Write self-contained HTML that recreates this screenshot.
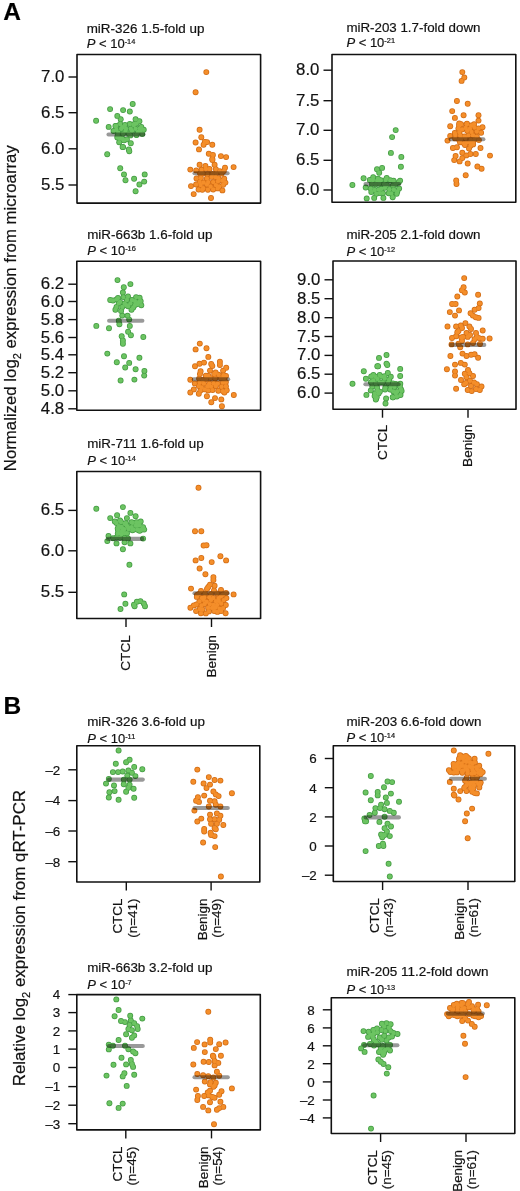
<!DOCTYPE html>
<html><head><meta charset="utf-8"><style>html,body{margin:0;padding:0;background:#fff;overflow:hidden}svg{display:block}#w{will-change:transform}</style></head><body><div id="w">
<svg width="520" height="1191" viewBox="0 0 520 1191" font-family='"Liberation Sans", sans-serif' stroke-linejoin="round">
<style>text{stroke:#1a1a1a;stroke-width:0.2px}</style>
<rect width="520" height="1191" fill="#fff"/>
<text x="3.2" y="19.6" font-size="24.5" font-weight="bold" fill="#000">A</text>
<text x="3.4" y="713.9" font-size="24.5" font-weight="bold" fill="#000">B</text>
<text transform="translate(16.2,471.2) rotate(-90)" font-size="16.8" fill="#111" textLength="326" lengthAdjust="spacingAndGlyphs">Normalized log<tspan font-size="11" dy="4.5">2</tspan><tspan dy="-4.5"> expression from microarray</tspan></text>
<text transform="translate(25.2,1086.3) rotate(-90)" font-size="16.8" fill="#111" textLength="296.4" lengthAdjust="spacingAndGlyphs">Relative log<tspan font-size="11" dy="4.5">2</tspan><tspan dy="-4.5"> expression from qRT-PCR</tspan></text>
<g fill="#439b42"><circle cx="96.1" cy="120.7" r="2.95"/><circle cx="110.1" cy="109.1" r="2.95"/><circle cx="132.7" cy="104.0" r="2.95"/><circle cx="123.1" cy="110.1" r="2.95"/><circle cx="129.8" cy="111.5" r="2.95"/><circle cx="117.3" cy="115.9" r="2.95"/><circle cx="120.7" cy="119.2" r="2.95"/><circle cx="135.6" cy="119.2" r="2.95"/><circle cx="139.4" cy="121.2" r="2.95"/><circle cx="108.7" cy="126.9" r="2.95"/><circle cx="115.4" cy="126.0" r="2.95"/><circle cx="120.2" cy="124.0" r="2.95"/><circle cx="125.0" cy="125.0" r="2.95"/><circle cx="129.8" cy="124.0" r="2.95"/><circle cx="133.7" cy="125.0" r="2.95"/><circle cx="136.5" cy="123.6" r="2.95"/><circle cx="141.3" cy="126.9" r="2.95"/><circle cx="143.75" cy="129.8" r="2.95"/><circle cx="140.4" cy="130.8" r="2.95"/><circle cx="135.6" cy="128.8" r="2.95"/><circle cx="130.8" cy="128.8" r="2.95"/><circle cx="126.0" cy="128.8" r="2.95"/><circle cx="121.2" cy="128.8" r="2.95"/><circle cx="116.3" cy="129.8" r="2.95"/><circle cx="118.3" cy="132.7" r="2.95"/><circle cx="123.1" cy="133.7" r="2.95"/><circle cx="128.8" cy="133.7" r="2.95"/><circle cx="136.5" cy="135.1" r="2.95"/><circle cx="142.3" cy="134.1" r="2.95"/><circle cx="117.3" cy="137.5" r="2.95"/><circle cx="122.1" cy="138.5" r="2.95"/><circle cx="126.9" cy="139.4" r="2.95"/><circle cx="130.8" cy="143.3" r="2.95"/><circle cx="123.1" cy="147.1" r="2.95"/><circle cx="128.8" cy="149.5" r="2.95"/><circle cx="119.2" cy="142.3" r="2.95"/><circle cx="107.2" cy="154.2" r="2.95"/><circle cx="122.6" cy="147.0" r="2.95"/><circle cx="129.3" cy="151.3" r="2.95"/><circle cx="124.0" cy="140.3" r="2.95"/><circle cx="120.2" cy="168.2" r="2.95"/><circle cx="124.0" cy="174.4" r="2.95"/><circle cx="125.5" cy="180.2" r="2.95"/><circle cx="134.1" cy="178.75" r="2.95"/><circle cx="144.7" cy="174.4" r="2.95"/><circle cx="144.2" cy="181.6" r="2.95"/><circle cx="139.4" cy="184.5" r="2.95"/><circle cx="135.6" cy="191.25" r="2.95"/><circle cx="116.2" cy="126.0" r="2.95"/><circle cx="122.3" cy="127.3" r="2.95"/><circle cx="134.4" cy="123.9" r="2.95"/><circle cx="139.8" cy="128.6" r="2.95"/><circle cx="117.6" cy="135.4" r="2.95"/><circle cx="130.4" cy="135.4" r="2.95"/><circle cx="136.4" cy="134.7" r="2.95"/><circle cx="119.6" cy="138.0" r="2.95"/><circle cx="123.6" cy="140.1" r="2.95"/><circle cx="125.5" cy="131.0" r="2.95"/><circle cx="132.0" cy="131.0" r="2.95"/><circle cx="138.0" cy="132.0" r="2.95"/><circle cx="113.5" cy="131.0" r="2.95"/></g>
<g fill="#6cc462"><circle cx="96.1" cy="120.7" r="2.2"/><circle cx="110.1" cy="109.1" r="2.2"/><circle cx="132.7" cy="104.0" r="2.2"/><circle cx="123.1" cy="110.1" r="2.2"/><circle cx="129.8" cy="111.5" r="2.2"/><circle cx="117.3" cy="115.9" r="2.2"/><circle cx="120.7" cy="119.2" r="2.2"/><circle cx="135.6" cy="119.2" r="2.2"/><circle cx="139.4" cy="121.2" r="2.2"/><circle cx="108.7" cy="126.9" r="2.2"/><circle cx="115.4" cy="126.0" r="2.2"/><circle cx="120.2" cy="124.0" r="2.2"/><circle cx="125.0" cy="125.0" r="2.2"/><circle cx="129.8" cy="124.0" r="2.2"/><circle cx="133.7" cy="125.0" r="2.2"/><circle cx="136.5" cy="123.6" r="2.2"/><circle cx="141.3" cy="126.9" r="2.2"/><circle cx="143.75" cy="129.8" r="2.2"/><circle cx="140.4" cy="130.8" r="2.2"/><circle cx="135.6" cy="128.8" r="2.2"/><circle cx="130.8" cy="128.8" r="2.2"/><circle cx="126.0" cy="128.8" r="2.2"/><circle cx="121.2" cy="128.8" r="2.2"/><circle cx="116.3" cy="129.8" r="2.2"/><circle cx="118.3" cy="132.7" r="2.2"/><circle cx="123.1" cy="133.7" r="2.2"/><circle cx="128.8" cy="133.7" r="2.2"/><circle cx="136.5" cy="135.1" r="2.2"/><circle cx="142.3" cy="134.1" r="2.2"/><circle cx="117.3" cy="137.5" r="2.2"/><circle cx="122.1" cy="138.5" r="2.2"/><circle cx="126.9" cy="139.4" r="2.2"/><circle cx="130.8" cy="143.3" r="2.2"/><circle cx="123.1" cy="147.1" r="2.2"/><circle cx="128.8" cy="149.5" r="2.2"/><circle cx="119.2" cy="142.3" r="2.2"/><circle cx="107.2" cy="154.2" r="2.2"/><circle cx="122.6" cy="147.0" r="2.2"/><circle cx="129.3" cy="151.3" r="2.2"/><circle cx="124.0" cy="140.3" r="2.2"/><circle cx="120.2" cy="168.2" r="2.2"/><circle cx="124.0" cy="174.4" r="2.2"/><circle cx="125.5" cy="180.2" r="2.2"/><circle cx="134.1" cy="178.75" r="2.2"/><circle cx="144.7" cy="174.4" r="2.2"/><circle cx="144.2" cy="181.6" r="2.2"/><circle cx="139.4" cy="184.5" r="2.2"/><circle cx="135.6" cy="191.25" r="2.2"/><circle cx="116.2" cy="126.0" r="2.2"/><circle cx="122.3" cy="127.3" r="2.2"/><circle cx="134.4" cy="123.9" r="2.2"/><circle cx="139.8" cy="128.6" r="2.2"/><circle cx="117.6" cy="135.4" r="2.2"/><circle cx="130.4" cy="135.4" r="2.2"/><circle cx="136.4" cy="134.7" r="2.2"/><circle cx="119.6" cy="138.0" r="2.2"/><circle cx="123.6" cy="140.1" r="2.2"/><circle cx="125.5" cy="131.0" r="2.2"/><circle cx="132.0" cy="131.0" r="2.2"/><circle cx="138.0" cy="132.0" r="2.2"/><circle cx="113.5" cy="131.0" r="2.2"/></g>
<g fill="#d26c14"><circle cx="206.3" cy="72.1" r="2.95"/><circle cx="195.6" cy="92.3" r="2.95"/><circle cx="199.6" cy="129.8" r="2.95"/><circle cx="201.3" cy="137.3" r="2.95"/><circle cx="195.6" cy="142.5" r="2.95"/><circle cx="204.8" cy="141.9" r="2.95"/><circle cx="207.1" cy="142.1" r="2.95"/><circle cx="203.6" cy="144.8" r="2.95"/><circle cx="212.3" cy="144.8" r="2.95"/><circle cx="199.0" cy="149.4" r="2.95"/><circle cx="208.8" cy="153.8" r="2.95"/><circle cx="212.9" cy="155.0" r="2.95"/><circle cx="212.3" cy="159.0" r="2.95"/><circle cx="220.9" cy="156.1" r="2.95"/><circle cx="226.1" cy="157.1" r="2.95"/><circle cx="199.6" cy="164.8" r="2.95"/><circle cx="205.4" cy="166.0" r="2.95"/><circle cx="214.6" cy="164.8" r="2.95"/><circle cx="225.0" cy="167.7" r="2.95"/><circle cx="233.6" cy="167.1" r="2.95"/><circle cx="190.3" cy="169.6" r="2.95"/><circle cx="212.4" cy="160.0" r="2.95"/><circle cx="191.0" cy="186.1" r="2.95"/><circle cx="193.7" cy="194.1" r="2.95"/><circle cx="211.0" cy="198.0" r="2.95"/><circle cx="225.4" cy="182.6" r="2.95"/><circle cx="202.3" cy="189.8" r="2.95"/><circle cx="196.2" cy="170.4" r="2.95"/><circle cx="201.6" cy="169.7" r="2.95"/><circle cx="206.0" cy="168.9" r="2.95"/><circle cx="209.5" cy="169.0" r="2.95"/><circle cx="215.8" cy="169.1" r="2.95"/><circle cx="219.8" cy="171.1" r="2.95"/><circle cx="223.8" cy="171.1" r="2.95"/><circle cx="200.1" cy="173.4" r="2.95"/><circle cx="202.8" cy="173.4" r="2.95"/><circle cx="207.5" cy="174.1" r="2.95"/><circle cx="212.4" cy="174.0" r="2.95"/><circle cx="216.2" cy="173.2" r="2.95"/><circle cx="221.6" cy="173.5" r="2.95"/><circle cx="196.5" cy="178.5" r="2.95"/><circle cx="200.9" cy="178.0" r="2.95"/><circle cx="206.9" cy="178.4" r="2.95"/><circle cx="211.7" cy="176.9" r="2.95"/><circle cx="215.6" cy="177.0" r="2.95"/><circle cx="218.4" cy="178.2" r="2.95"/><circle cx="224.2" cy="178.7" r="2.95"/><circle cx="199.7" cy="181.9" r="2.95"/><circle cx="203.6" cy="182.5" r="2.95"/><circle cx="208.2" cy="182.1" r="2.95"/><circle cx="213.2" cy="182.1" r="2.95"/><circle cx="218.0" cy="181.2" r="2.95"/><circle cx="222.2" cy="180.6" r="2.95"/><circle cx="196.1" cy="184.5" r="2.95"/><circle cx="200.6" cy="185.0" r="2.95"/><circle cx="206.9" cy="184.6" r="2.95"/><circle cx="210.6" cy="186.5" r="2.95"/><circle cx="215.9" cy="185.1" r="2.95"/><circle cx="219.2" cy="186.5" r="2.95"/><circle cx="223.2" cy="184.8" r="2.95"/><circle cx="198.6" cy="189.5" r="2.95"/><circle cx="203.2" cy="188.3" r="2.95"/><circle cx="207.9" cy="189.7" r="2.95"/><circle cx="213.2" cy="189.5" r="2.95"/><circle cx="217.7" cy="188.4" r="2.95"/><circle cx="222.4" cy="190.4" r="2.95"/></g>
<g fill="#f48e2a"><circle cx="206.3" cy="72.1" r="2.2"/><circle cx="195.6" cy="92.3" r="2.2"/><circle cx="199.6" cy="129.8" r="2.2"/><circle cx="201.3" cy="137.3" r="2.2"/><circle cx="195.6" cy="142.5" r="2.2"/><circle cx="204.8" cy="141.9" r="2.2"/><circle cx="207.1" cy="142.1" r="2.2"/><circle cx="203.6" cy="144.8" r="2.2"/><circle cx="212.3" cy="144.8" r="2.2"/><circle cx="199.0" cy="149.4" r="2.2"/><circle cx="208.8" cy="153.8" r="2.2"/><circle cx="212.9" cy="155.0" r="2.2"/><circle cx="212.3" cy="159.0" r="2.2"/><circle cx="220.9" cy="156.1" r="2.2"/><circle cx="226.1" cy="157.1" r="2.2"/><circle cx="199.6" cy="164.8" r="2.2"/><circle cx="205.4" cy="166.0" r="2.2"/><circle cx="214.6" cy="164.8" r="2.2"/><circle cx="225.0" cy="167.7" r="2.2"/><circle cx="233.6" cy="167.1" r="2.2"/><circle cx="190.3" cy="169.6" r="2.2"/><circle cx="212.4" cy="160.0" r="2.2"/><circle cx="191.0" cy="186.1" r="2.2"/><circle cx="193.7" cy="194.1" r="2.2"/><circle cx="211.0" cy="198.0" r="2.2"/><circle cx="225.4" cy="182.6" r="2.2"/><circle cx="202.3" cy="189.8" r="2.2"/><circle cx="196.2" cy="170.4" r="2.2"/><circle cx="201.6" cy="169.7" r="2.2"/><circle cx="206.0" cy="168.9" r="2.2"/><circle cx="209.5" cy="169.0" r="2.2"/><circle cx="215.8" cy="169.1" r="2.2"/><circle cx="219.8" cy="171.1" r="2.2"/><circle cx="223.8" cy="171.1" r="2.2"/><circle cx="200.1" cy="173.4" r="2.2"/><circle cx="202.8" cy="173.4" r="2.2"/><circle cx="207.5" cy="174.1" r="2.2"/><circle cx="212.4" cy="174.0" r="2.2"/><circle cx="216.2" cy="173.2" r="2.2"/><circle cx="221.6" cy="173.5" r="2.2"/><circle cx="196.5" cy="178.5" r="2.2"/><circle cx="200.9" cy="178.0" r="2.2"/><circle cx="206.9" cy="178.4" r="2.2"/><circle cx="211.7" cy="176.9" r="2.2"/><circle cx="215.6" cy="177.0" r="2.2"/><circle cx="218.4" cy="178.2" r="2.2"/><circle cx="224.2" cy="178.7" r="2.2"/><circle cx="199.7" cy="181.9" r="2.2"/><circle cx="203.6" cy="182.5" r="2.2"/><circle cx="208.2" cy="182.1" r="2.2"/><circle cx="213.2" cy="182.1" r="2.2"/><circle cx="218.0" cy="181.2" r="2.2"/><circle cx="222.2" cy="180.6" r="2.2"/><circle cx="196.1" cy="184.5" r="2.2"/><circle cx="200.6" cy="185.0" r="2.2"/><circle cx="206.9" cy="184.6" r="2.2"/><circle cx="210.6" cy="186.5" r="2.2"/><circle cx="215.9" cy="185.1" r="2.2"/><circle cx="219.2" cy="186.5" r="2.2"/><circle cx="223.2" cy="184.8" r="2.2"/><circle cx="198.6" cy="189.5" r="2.2"/><circle cx="203.2" cy="188.3" r="2.2"/><circle cx="207.9" cy="189.7" r="2.2"/><circle cx="213.2" cy="189.5" r="2.2"/><circle cx="217.7" cy="188.4" r="2.2"/><circle cx="222.4" cy="190.4" r="2.2"/></g>
<line x1="108.5" y1="134.5" x2="143.39999999999998" y2="134.5" stroke="#000" stroke-opacity="0.4" stroke-width="4.1" stroke-linecap="round"/>
<line x1="194.5" y1="173.3" x2="227.6" y2="173.3" stroke="#000" stroke-opacity="0.4" stroke-width="4.1" stroke-linecap="round"/>
<rect x="77" y="54.5" width="183.60000000000002" height="148.6" fill="none" stroke="#111" stroke-width="1.6"/>
<line x1="68.5" y1="77" x2="77" y2="77" stroke="#111" stroke-width="1.4"/>
<text x="64.4" y="82.0" font-size="16.8" text-anchor="end" fill="#111">7.0</text>
<line x1="68.5" y1="112.7" x2="77" y2="112.7" stroke="#111" stroke-width="1.4"/>
<text x="64.4" y="117.7" font-size="16.8" text-anchor="end" fill="#111">6.5</text>
<line x1="68.5" y1="148.8" x2="77" y2="148.8" stroke="#111" stroke-width="1.4"/>
<text x="64.4" y="153.8" font-size="16.8" text-anchor="end" fill="#111">6.0</text>
<line x1="68.5" y1="185" x2="77" y2="185" stroke="#111" stroke-width="1.4"/>
<text x="64.4" y="190.0" font-size="16.8" text-anchor="end" fill="#111">5.5</text>
<text x="86.7" y="32.5" font-size="13" fill="#111" textLength="117.7" lengthAdjust="spacingAndGlyphs">miR-326 1.5-fold up</text>
<text x="86.7" y="48.0" font-size="13" fill="#111"><tspan font-style="italic">P</tspan> &lt; 10<tspan font-size="7.4" dy="-4">-14</tspan></text>
<g fill="#439b42"><circle cx="395.7" cy="130.1" r="2.95"/><circle cx="392.1" cy="137.1" r="2.95"/><circle cx="390.9" cy="152.9" r="2.95"/><circle cx="401.3" cy="156.9" r="2.95"/><circle cx="400.9" cy="166.7" r="2.95"/><circle cx="400.1" cy="180.6" r="2.95"/><circle cx="352.4" cy="185.0" r="2.95"/><circle cx="363.6" cy="178.3" r="2.95"/><circle cx="365.7" cy="187.5" r="2.95"/><circle cx="366.7" cy="198.4" r="2.95"/><circle cx="377.0" cy="169.3" r="2.95"/><circle cx="382.1" cy="167.9" r="2.95"/><circle cx="379.2" cy="172.8" r="2.95"/><circle cx="373.2" cy="177.1" r="2.95"/><circle cx="378.0" cy="178.8" r="2.95"/><circle cx="386.7" cy="177.9" r="2.95"/><circle cx="374.2" cy="197.9" r="2.95"/><circle cx="383.4" cy="197.9" r="2.95"/><circle cx="392.7" cy="197.3" r="2.95"/><circle cx="397.3" cy="191.5" r="2.95"/><circle cx="369.8" cy="180.0" r="2.95"/><circle cx="372.9" cy="180.0" r="2.95"/><circle cx="377.2" cy="180.6" r="2.95"/><circle cx="380.8" cy="180.2" r="2.95"/><circle cx="385.7" cy="179.9" r="2.95"/><circle cx="390.3" cy="180.2" r="2.95"/><circle cx="393.6" cy="180.7" r="2.95"/><circle cx="398.8" cy="182.2" r="2.95"/><circle cx="372.0" cy="183.9" r="2.95"/><circle cx="375.6" cy="184.3" r="2.95"/><circle cx="379.2" cy="183.8" r="2.95"/><circle cx="384.1" cy="184.1" r="2.95"/><circle cx="386.9" cy="185.0" r="2.95"/><circle cx="392.9" cy="185.4" r="2.95"/><circle cx="395.7" cy="184.1" r="2.95"/><circle cx="370.7" cy="188.4" r="2.95"/><circle cx="374.7" cy="190.0" r="2.95"/><circle cx="378.7" cy="189.6" r="2.95"/><circle cx="381.3" cy="188.8" r="2.95"/><circle cx="384.9" cy="187.7" r="2.95"/><circle cx="389.4" cy="189.3" r="2.95"/><circle cx="393.9" cy="189.8" r="2.95"/><circle cx="399.1" cy="188.5" r="2.95"/><circle cx="371.3" cy="192.0" r="2.95"/><circle cx="376.3" cy="193.7" r="2.95"/><circle cx="380.0" cy="193.1" r="2.95"/><circle cx="383.0" cy="193.1" r="2.95"/><circle cx="388.7" cy="193.3" r="2.95"/><circle cx="391.2" cy="193.4" r="2.95"/><circle cx="396.7" cy="193.8" r="2.95"/></g>
<g fill="#6cc462"><circle cx="395.7" cy="130.1" r="2.2"/><circle cx="392.1" cy="137.1" r="2.2"/><circle cx="390.9" cy="152.9" r="2.2"/><circle cx="401.3" cy="156.9" r="2.2"/><circle cx="400.9" cy="166.7" r="2.2"/><circle cx="400.1" cy="180.6" r="2.2"/><circle cx="352.4" cy="185.0" r="2.2"/><circle cx="363.6" cy="178.3" r="2.2"/><circle cx="365.7" cy="187.5" r="2.2"/><circle cx="366.7" cy="198.4" r="2.2"/><circle cx="377.0" cy="169.3" r="2.2"/><circle cx="382.1" cy="167.9" r="2.2"/><circle cx="379.2" cy="172.8" r="2.2"/><circle cx="373.2" cy="177.1" r="2.2"/><circle cx="378.0" cy="178.8" r="2.2"/><circle cx="386.7" cy="177.9" r="2.2"/><circle cx="374.2" cy="197.9" r="2.2"/><circle cx="383.4" cy="197.9" r="2.2"/><circle cx="392.7" cy="197.3" r="2.2"/><circle cx="397.3" cy="191.5" r="2.2"/><circle cx="369.8" cy="180.0" r="2.2"/><circle cx="372.9" cy="180.0" r="2.2"/><circle cx="377.2" cy="180.6" r="2.2"/><circle cx="380.8" cy="180.2" r="2.2"/><circle cx="385.7" cy="179.9" r="2.2"/><circle cx="390.3" cy="180.2" r="2.2"/><circle cx="393.6" cy="180.7" r="2.2"/><circle cx="398.8" cy="182.2" r="2.2"/><circle cx="372.0" cy="183.9" r="2.2"/><circle cx="375.6" cy="184.3" r="2.2"/><circle cx="379.2" cy="183.8" r="2.2"/><circle cx="384.1" cy="184.1" r="2.2"/><circle cx="386.9" cy="185.0" r="2.2"/><circle cx="392.9" cy="185.4" r="2.2"/><circle cx="395.7" cy="184.1" r="2.2"/><circle cx="370.7" cy="188.4" r="2.2"/><circle cx="374.7" cy="190.0" r="2.2"/><circle cx="378.7" cy="189.6" r="2.2"/><circle cx="381.3" cy="188.8" r="2.2"/><circle cx="384.9" cy="187.7" r="2.2"/><circle cx="389.4" cy="189.3" r="2.2"/><circle cx="393.9" cy="189.8" r="2.2"/><circle cx="399.1" cy="188.5" r="2.2"/><circle cx="371.3" cy="192.0" r="2.2"/><circle cx="376.3" cy="193.7" r="2.2"/><circle cx="380.0" cy="193.1" r="2.2"/><circle cx="383.0" cy="193.1" r="2.2"/><circle cx="388.7" cy="193.3" r="2.2"/><circle cx="391.2" cy="193.4" r="2.2"/><circle cx="396.7" cy="193.8" r="2.2"/></g>
<g fill="#d26c14"><circle cx="462.3" cy="72.1" r="2.95"/><circle cx="464.3" cy="77.5" r="2.95"/><circle cx="461.6" cy="80.9" r="2.95"/><circle cx="456.9" cy="101.0" r="2.95"/><circle cx="467.7" cy="103.7" r="2.95"/><circle cx="452.2" cy="111.1" r="2.95"/><circle cx="463.6" cy="115.2" r="2.95"/><circle cx="478.5" cy="115.2" r="2.95"/><circle cx="478.5" cy="120.6" r="2.95"/><circle cx="454.9" cy="117.9" r="2.95"/><circle cx="450.2" cy="126.2" r="2.95"/><circle cx="459.2" cy="123.5" r="2.95"/><circle cx="467.0" cy="123.8" r="2.95"/><circle cx="482.5" cy="127.2" r="2.95"/><circle cx="447.5" cy="140.6" r="2.95"/><circle cx="450.2" cy="135.9" r="2.95"/><circle cx="452.9" cy="148.0" r="2.95"/><circle cx="456.9" cy="147.3" r="2.95"/><circle cx="469.0" cy="148.6" r="2.95"/><circle cx="480.5" cy="148.0" r="2.95"/><circle cx="455.6" cy="156.0" r="2.95"/><circle cx="462.3" cy="152.7" r="2.95"/><circle cx="466.3" cy="155.4" r="2.95"/><circle cx="470.4" cy="154.0" r="2.95"/><circle cx="475.8" cy="154.0" r="2.95"/><circle cx="454.2" cy="160.1" r="2.95"/><circle cx="459.6" cy="161.4" r="2.95"/><circle cx="467.7" cy="163.5" r="2.95"/><circle cx="462.3" cy="158.1" r="2.95"/><circle cx="490.0" cy="155.6" r="2.95"/><circle cx="477.4" cy="166.5" r="2.95"/><circle cx="481.6" cy="168.8" r="2.95"/><circle cx="465.7" cy="175.3" r="2.95"/><circle cx="456.2" cy="180.5" r="2.95"/><circle cx="456.5" cy="184.0" r="2.95"/><circle cx="459.1" cy="125.5" r="2.95"/><circle cx="461.1" cy="124.2" r="2.95"/><circle cx="466.7" cy="124.2" r="2.95"/><circle cx="471.2" cy="125.4" r="2.95"/><circle cx="474.1" cy="124.1" r="2.95"/><circle cx="458.4" cy="128.6" r="2.95"/><circle cx="462.1" cy="129.4" r="2.95"/><circle cx="465.7" cy="127.9" r="2.95"/><circle cx="470.0" cy="128.7" r="2.95"/><circle cx="474.6" cy="127.6" r="2.95"/><circle cx="478.6" cy="128.4" r="2.95"/><circle cx="454.8" cy="133.0" r="2.95"/><circle cx="459.4" cy="132.1" r="2.95"/><circle cx="467.2" cy="130.8" r="2.95"/><circle cx="471.5" cy="131.9" r="2.95"/><circle cx="476.8" cy="131.6" r="2.95"/><circle cx="481.1" cy="132.7" r="2.95"/><circle cx="455.3" cy="134.9" r="2.95"/><circle cx="460.2" cy="135.5" r="2.95"/><circle cx="464.5" cy="136.5" r="2.95"/><circle cx="468.4" cy="135.5" r="2.95"/><circle cx="473.0" cy="135.4" r="2.95"/><circle cx="476.8" cy="136.6" r="2.95"/><circle cx="455.1" cy="138.4" r="2.95"/><circle cx="459.1" cy="139.8" r="2.95"/><circle cx="461.1" cy="138.9" r="2.95"/><circle cx="465.4" cy="138.0" r="2.95"/><circle cx="470.7" cy="140.0" r="2.95"/><circle cx="474.5" cy="139.4" r="2.95"/><circle cx="478.9" cy="140.1" r="2.95"/><circle cx="460.0" cy="142.3" r="2.95"/><circle cx="463.9" cy="143.3" r="2.95"/><circle cx="466.3" cy="142.5" r="2.95"/><circle cx="469.6" cy="142.1" r="2.95"/><circle cx="472.9" cy="142.6" r="2.95"/><circle cx="465.0" cy="145.0" r="2.95"/><circle cx="470.5" cy="145.7" r="2.95"/><circle cx="473.1" cy="144.4" r="2.95"/></g>
<g fill="#f48e2a"><circle cx="462.3" cy="72.1" r="2.2"/><circle cx="464.3" cy="77.5" r="2.2"/><circle cx="461.6" cy="80.9" r="2.2"/><circle cx="456.9" cy="101.0" r="2.2"/><circle cx="467.7" cy="103.7" r="2.2"/><circle cx="452.2" cy="111.1" r="2.2"/><circle cx="463.6" cy="115.2" r="2.2"/><circle cx="478.5" cy="115.2" r="2.2"/><circle cx="478.5" cy="120.6" r="2.2"/><circle cx="454.9" cy="117.9" r="2.2"/><circle cx="450.2" cy="126.2" r="2.2"/><circle cx="459.2" cy="123.5" r="2.2"/><circle cx="467.0" cy="123.8" r="2.2"/><circle cx="482.5" cy="127.2" r="2.2"/><circle cx="447.5" cy="140.6" r="2.2"/><circle cx="450.2" cy="135.9" r="2.2"/><circle cx="452.9" cy="148.0" r="2.2"/><circle cx="456.9" cy="147.3" r="2.2"/><circle cx="469.0" cy="148.6" r="2.2"/><circle cx="480.5" cy="148.0" r="2.2"/><circle cx="455.6" cy="156.0" r="2.2"/><circle cx="462.3" cy="152.7" r="2.2"/><circle cx="466.3" cy="155.4" r="2.2"/><circle cx="470.4" cy="154.0" r="2.2"/><circle cx="475.8" cy="154.0" r="2.2"/><circle cx="454.2" cy="160.1" r="2.2"/><circle cx="459.6" cy="161.4" r="2.2"/><circle cx="467.7" cy="163.5" r="2.2"/><circle cx="462.3" cy="158.1" r="2.2"/><circle cx="490.0" cy="155.6" r="2.2"/><circle cx="477.4" cy="166.5" r="2.2"/><circle cx="481.6" cy="168.8" r="2.2"/><circle cx="465.7" cy="175.3" r="2.2"/><circle cx="456.2" cy="180.5" r="2.2"/><circle cx="456.5" cy="184.0" r="2.2"/><circle cx="459.1" cy="125.5" r="2.2"/><circle cx="461.1" cy="124.2" r="2.2"/><circle cx="466.7" cy="124.2" r="2.2"/><circle cx="471.2" cy="125.4" r="2.2"/><circle cx="474.1" cy="124.1" r="2.2"/><circle cx="458.4" cy="128.6" r="2.2"/><circle cx="462.1" cy="129.4" r="2.2"/><circle cx="465.7" cy="127.9" r="2.2"/><circle cx="470.0" cy="128.7" r="2.2"/><circle cx="474.6" cy="127.6" r="2.2"/><circle cx="478.6" cy="128.4" r="2.2"/><circle cx="454.8" cy="133.0" r="2.2"/><circle cx="459.4" cy="132.1" r="2.2"/><circle cx="467.2" cy="130.8" r="2.2"/><circle cx="471.5" cy="131.9" r="2.2"/><circle cx="476.8" cy="131.6" r="2.2"/><circle cx="481.1" cy="132.7" r="2.2"/><circle cx="455.3" cy="134.9" r="2.2"/><circle cx="460.2" cy="135.5" r="2.2"/><circle cx="464.5" cy="136.5" r="2.2"/><circle cx="468.4" cy="135.5" r="2.2"/><circle cx="473.0" cy="135.4" r="2.2"/><circle cx="476.8" cy="136.6" r="2.2"/><circle cx="455.1" cy="138.4" r="2.2"/><circle cx="459.1" cy="139.8" r="2.2"/><circle cx="461.1" cy="138.9" r="2.2"/><circle cx="465.4" cy="138.0" r="2.2"/><circle cx="470.7" cy="140.0" r="2.2"/><circle cx="474.5" cy="139.4" r="2.2"/><circle cx="478.9" cy="140.1" r="2.2"/><circle cx="460.0" cy="142.3" r="2.2"/><circle cx="463.9" cy="143.3" r="2.2"/><circle cx="466.3" cy="142.5" r="2.2"/><circle cx="469.6" cy="142.1" r="2.2"/><circle cx="472.9" cy="142.6" r="2.2"/><circle cx="465.0" cy="145.0" r="2.2"/><circle cx="470.5" cy="145.7" r="2.2"/><circle cx="473.1" cy="144.4" r="2.2"/></g>
<line x1="365.5" y1="184.10000000000002" x2="399.2" y2="184.10000000000002" stroke="#000" stroke-opacity="0.4" stroke-width="4.1" stroke-linecap="round"/>
<line x1="450.6" y1="139.3" x2="483.4" y2="139.3" stroke="#000" stroke-opacity="0.4" stroke-width="4.1" stroke-linecap="round"/>
<rect x="332" y="54.5" width="183.79999999999995" height="147.7" fill="none" stroke="#111" stroke-width="1.6"/>
<line x1="323.5" y1="70.2" x2="332" y2="70.2" stroke="#111" stroke-width="1.4"/>
<text x="319.4" y="75.2" font-size="16.8" text-anchor="end" fill="#111">8.0</text>
<line x1="323.5" y1="100.7" x2="332" y2="100.7" stroke="#111" stroke-width="1.4"/>
<text x="319.4" y="105.7" font-size="16.8" text-anchor="end" fill="#111">7.5</text>
<line x1="323.5" y1="130.3" x2="332" y2="130.3" stroke="#111" stroke-width="1.4"/>
<text x="319.4" y="135.3" font-size="16.8" text-anchor="end" fill="#111">7.0</text>
<line x1="323.5" y1="160.3" x2="332" y2="160.3" stroke="#111" stroke-width="1.4"/>
<text x="319.4" y="165.3" font-size="16.8" text-anchor="end" fill="#111">6.5</text>
<line x1="323.5" y1="190" x2="332" y2="190" stroke="#111" stroke-width="1.4"/>
<text x="319.4" y="195.0" font-size="16.8" text-anchor="end" fill="#111">6.0</text>
<text x="346.4" y="32" font-size="13" fill="#111" textLength="134.1" lengthAdjust="spacingAndGlyphs">miR-203 1.7-fold down</text>
<text x="346.4" y="47.2" font-size="13" fill="#111"><tspan font-style="italic">P</tspan> &lt; 10<tspan font-size="7.4" dy="-4">-21</tspan></text>
<g fill="#439b42"><circle cx="117.5" cy="280.1" r="2.95"/><circle cx="130.4" cy="284.1" r="2.95"/><circle cx="123.8" cy="287.3" r="2.95"/><circle cx="122.9" cy="292.5" r="2.95"/><circle cx="110.2" cy="300.0" r="2.95"/><circle cx="116.5" cy="299.4" r="2.95"/><circle cx="123.4" cy="297.1" r="2.95"/><circle cx="126.9" cy="300.0" r="2.95"/><circle cx="136.1" cy="297.1" r="2.95"/><circle cx="139.6" cy="297.7" r="2.95"/><circle cx="140.7" cy="301.1" r="2.95"/><circle cx="135.0" cy="301.1" r="2.95"/><circle cx="118.8" cy="303.4" r="2.95"/><circle cx="124.6" cy="303.4" r="2.95"/><circle cx="130.4" cy="303.4" r="2.95"/><circle cx="141.3" cy="305.2" r="2.95"/><circle cx="137.3" cy="304.0" r="2.95"/><circle cx="116.5" cy="306.9" r="2.95"/><circle cx="122.3" cy="306.9" r="2.95"/><circle cx="128.1" cy="306.3" r="2.95"/><circle cx="133.3" cy="307.5" r="2.95"/><circle cx="115.4" cy="309.8" r="2.95"/><circle cx="121.1" cy="310.9" r="2.95"/><circle cx="131.5" cy="309.8" r="2.95"/><circle cx="122.3" cy="315.6" r="2.95"/><circle cx="127.5" cy="315.6" r="2.95"/><circle cx="118.8" cy="320.8" r="2.95"/><circle cx="129.2" cy="319.6" r="2.95"/><circle cx="119.4" cy="324.2" r="2.95"/><circle cx="129.8" cy="325.9" r="2.95"/><circle cx="96.3" cy="325.9" r="2.95"/><circle cx="109.0" cy="328.2" r="2.95"/><circle cx="128.1" cy="331.7" r="2.95"/><circle cx="130.9" cy="335.2" r="2.95"/><circle cx="121.7" cy="336.3" r="2.95"/><circle cx="143.3" cy="337.0" r="2.95"/><circle cx="122.9" cy="340.4" r="2.95"/><circle cx="122.9" cy="343.8" r="2.95"/><circle cx="107.3" cy="353.6" r="2.95"/><circle cx="124.0" cy="356.3" r="2.95"/><circle cx="139.4" cy="357.7" r="2.95"/><circle cx="116.8" cy="362.3" r="2.95"/><circle cx="129.2" cy="362.9" r="2.95"/><circle cx="125.2" cy="367.5" r="2.95"/><circle cx="135.6" cy="369.2" r="2.95"/><circle cx="144.4" cy="370.9" r="2.95"/><circle cx="144.2" cy="375.6" r="2.95"/><circle cx="120.6" cy="380.5" r="2.95"/><circle cx="134.4" cy="379.6" r="2.95"/><circle cx="118.0" cy="298.0" r="2.95"/><circle cx="128.0" cy="296.5" r="2.95"/><circle cx="132.0" cy="300.0" r="2.95"/><circle cx="126.0" cy="305.0" r="2.95"/><circle cx="120.0" cy="302.0" r="2.95"/><circle cx="135.0" cy="305.0" r="2.95"/><circle cx="113.0" cy="300.5" r="2.95"/><circle cx="139.0" cy="302.0" r="2.95"/></g>
<g fill="#6cc462"><circle cx="117.5" cy="280.1" r="2.2"/><circle cx="130.4" cy="284.1" r="2.2"/><circle cx="123.8" cy="287.3" r="2.2"/><circle cx="122.9" cy="292.5" r="2.2"/><circle cx="110.2" cy="300.0" r="2.2"/><circle cx="116.5" cy="299.4" r="2.2"/><circle cx="123.4" cy="297.1" r="2.2"/><circle cx="126.9" cy="300.0" r="2.2"/><circle cx="136.1" cy="297.1" r="2.2"/><circle cx="139.6" cy="297.7" r="2.2"/><circle cx="140.7" cy="301.1" r="2.2"/><circle cx="135.0" cy="301.1" r="2.2"/><circle cx="118.8" cy="303.4" r="2.2"/><circle cx="124.6" cy="303.4" r="2.2"/><circle cx="130.4" cy="303.4" r="2.2"/><circle cx="141.3" cy="305.2" r="2.2"/><circle cx="137.3" cy="304.0" r="2.2"/><circle cx="116.5" cy="306.9" r="2.2"/><circle cx="122.3" cy="306.9" r="2.2"/><circle cx="128.1" cy="306.3" r="2.2"/><circle cx="133.3" cy="307.5" r="2.2"/><circle cx="115.4" cy="309.8" r="2.2"/><circle cx="121.1" cy="310.9" r="2.2"/><circle cx="131.5" cy="309.8" r="2.2"/><circle cx="122.3" cy="315.6" r="2.2"/><circle cx="127.5" cy="315.6" r="2.2"/><circle cx="118.8" cy="320.8" r="2.2"/><circle cx="129.2" cy="319.6" r="2.2"/><circle cx="119.4" cy="324.2" r="2.2"/><circle cx="129.8" cy="325.9" r="2.2"/><circle cx="96.3" cy="325.9" r="2.2"/><circle cx="109.0" cy="328.2" r="2.2"/><circle cx="128.1" cy="331.7" r="2.2"/><circle cx="130.9" cy="335.2" r="2.2"/><circle cx="121.7" cy="336.3" r="2.2"/><circle cx="143.3" cy="337.0" r="2.2"/><circle cx="122.9" cy="340.4" r="2.2"/><circle cx="122.9" cy="343.8" r="2.2"/><circle cx="107.3" cy="353.6" r="2.2"/><circle cx="124.0" cy="356.3" r="2.2"/><circle cx="139.4" cy="357.7" r="2.2"/><circle cx="116.8" cy="362.3" r="2.2"/><circle cx="129.2" cy="362.9" r="2.2"/><circle cx="125.2" cy="367.5" r="2.2"/><circle cx="135.6" cy="369.2" r="2.2"/><circle cx="144.4" cy="370.9" r="2.2"/><circle cx="144.2" cy="375.6" r="2.2"/><circle cx="120.6" cy="380.5" r="2.2"/><circle cx="134.4" cy="379.6" r="2.2"/><circle cx="118.0" cy="298.0" r="2.2"/><circle cx="128.0" cy="296.5" r="2.2"/><circle cx="132.0" cy="300.0" r="2.2"/><circle cx="126.0" cy="305.0" r="2.2"/><circle cx="120.0" cy="302.0" r="2.2"/><circle cx="135.0" cy="305.0" r="2.2"/><circle cx="113.0" cy="300.5" r="2.2"/><circle cx="139.0" cy="302.0" r="2.2"/></g>
<g fill="#d26c14"><circle cx="199.8" cy="343.6" r="2.95"/><circle cx="195.6" cy="349.4" r="2.95"/><circle cx="206.5" cy="348.3" r="2.95"/><circle cx="208.3" cy="356.9" r="2.95"/><circle cx="219.9" cy="361.7" r="2.95"/><circle cx="219.9" cy="365.0" r="2.95"/><circle cx="226.2" cy="367.7" r="2.95"/><circle cx="223.1" cy="370.6" r="2.95"/><circle cx="195.0" cy="366.2" r="2.95"/><circle cx="199.5" cy="363.8" r="2.95"/><circle cx="204.0" cy="362.6" r="2.95"/><circle cx="211.2" cy="364.0" r="2.95"/><circle cx="212.3" cy="366.0" r="2.95"/><circle cx="200.6" cy="371.3" r="2.95"/><circle cx="210.0" cy="370.6" r="2.95"/><circle cx="215.6" cy="372.5" r="2.95"/><circle cx="190.3" cy="379.7" r="2.95"/><circle cx="190.3" cy="392.5" r="2.95"/><circle cx="193.8" cy="389.4" r="2.95"/><circle cx="198.8" cy="393.75" r="2.95"/><circle cx="206.9" cy="396.3" r="2.95"/><circle cx="215.0" cy="398.1" r="2.95"/><circle cx="221.3" cy="399.4" r="2.95"/><circle cx="211.3" cy="402.2" r="2.95"/><circle cx="221.9" cy="406.3" r="2.95"/><circle cx="233.8" cy="395.0" r="2.95"/><circle cx="224.4" cy="392.5" r="2.95"/><circle cx="199.9" cy="374.1" r="2.95"/><circle cx="205.8" cy="375.8" r="2.95"/><circle cx="208.4" cy="376.0" r="2.95"/><circle cx="214.2" cy="374.0" r="2.95"/><circle cx="218.6" cy="374.8" r="2.95"/><circle cx="223.6" cy="375.3" r="2.95"/><circle cx="226.0" cy="375.9" r="2.95"/><circle cx="199.1" cy="378.8" r="2.95"/><circle cx="202.8" cy="379.9" r="2.95"/><circle cx="206.2" cy="379.0" r="2.95"/><circle cx="210.6" cy="378.1" r="2.95"/><circle cx="215.2" cy="378.4" r="2.95"/><circle cx="221.0" cy="378.4" r="2.95"/><circle cx="224.0" cy="378.5" r="2.95"/><circle cx="194.8" cy="383.4" r="2.95"/><circle cx="199.7" cy="382.7" r="2.95"/><circle cx="203.9" cy="383.6" r="2.95"/><circle cx="209.3" cy="383.6" r="2.95"/><circle cx="213.7" cy="383.3" r="2.95"/><circle cx="217.8" cy="383.6" r="2.95"/><circle cx="222.9" cy="382.6" r="2.95"/><circle cx="225.9" cy="381.9" r="2.95"/><circle cx="198.8" cy="386.1" r="2.95"/><circle cx="201.6" cy="387.5" r="2.95"/><circle cx="207.5" cy="386.2" r="2.95"/><circle cx="211.0" cy="386.6" r="2.95"/><circle cx="215.8" cy="386.1" r="2.95"/><circle cx="221.5" cy="386.8" r="2.95"/><circle cx="225.9" cy="386.2" r="2.95"/><circle cx="200.4" cy="390.6" r="2.95"/><circle cx="204.9" cy="389.4" r="2.95"/><circle cx="208.3" cy="390.4" r="2.95"/><circle cx="212.6" cy="390.1" r="2.95"/><circle cx="218.3" cy="390.7" r="2.95"/><circle cx="222.9" cy="391.1" r="2.95"/><circle cx="226.7" cy="390.2" r="2.95"/></g>
<g fill="#f48e2a"><circle cx="199.8" cy="343.6" r="2.2"/><circle cx="195.6" cy="349.4" r="2.2"/><circle cx="206.5" cy="348.3" r="2.2"/><circle cx="208.3" cy="356.9" r="2.2"/><circle cx="219.9" cy="361.7" r="2.2"/><circle cx="219.9" cy="365.0" r="2.2"/><circle cx="226.2" cy="367.7" r="2.2"/><circle cx="223.1" cy="370.6" r="2.2"/><circle cx="195.0" cy="366.2" r="2.2"/><circle cx="199.5" cy="363.8" r="2.2"/><circle cx="204.0" cy="362.6" r="2.2"/><circle cx="211.2" cy="364.0" r="2.2"/><circle cx="212.3" cy="366.0" r="2.2"/><circle cx="200.6" cy="371.3" r="2.2"/><circle cx="210.0" cy="370.6" r="2.2"/><circle cx="215.6" cy="372.5" r="2.2"/><circle cx="190.3" cy="379.7" r="2.2"/><circle cx="190.3" cy="392.5" r="2.2"/><circle cx="193.8" cy="389.4" r="2.2"/><circle cx="198.8" cy="393.75" r="2.2"/><circle cx="206.9" cy="396.3" r="2.2"/><circle cx="215.0" cy="398.1" r="2.2"/><circle cx="221.3" cy="399.4" r="2.2"/><circle cx="211.3" cy="402.2" r="2.2"/><circle cx="221.9" cy="406.3" r="2.2"/><circle cx="233.8" cy="395.0" r="2.2"/><circle cx="224.4" cy="392.5" r="2.2"/><circle cx="199.9" cy="374.1" r="2.2"/><circle cx="205.8" cy="375.8" r="2.2"/><circle cx="208.4" cy="376.0" r="2.2"/><circle cx="214.2" cy="374.0" r="2.2"/><circle cx="218.6" cy="374.8" r="2.2"/><circle cx="223.6" cy="375.3" r="2.2"/><circle cx="226.0" cy="375.9" r="2.2"/><circle cx="199.1" cy="378.8" r="2.2"/><circle cx="202.8" cy="379.9" r="2.2"/><circle cx="206.2" cy="379.0" r="2.2"/><circle cx="210.6" cy="378.1" r="2.2"/><circle cx="215.2" cy="378.4" r="2.2"/><circle cx="221.0" cy="378.4" r="2.2"/><circle cx="224.0" cy="378.5" r="2.2"/><circle cx="194.8" cy="383.4" r="2.2"/><circle cx="199.7" cy="382.7" r="2.2"/><circle cx="203.9" cy="383.6" r="2.2"/><circle cx="209.3" cy="383.6" r="2.2"/><circle cx="213.7" cy="383.3" r="2.2"/><circle cx="217.8" cy="383.6" r="2.2"/><circle cx="222.9" cy="382.6" r="2.2"/><circle cx="225.9" cy="381.9" r="2.2"/><circle cx="198.8" cy="386.1" r="2.2"/><circle cx="201.6" cy="387.5" r="2.2"/><circle cx="207.5" cy="386.2" r="2.2"/><circle cx="211.0" cy="386.6" r="2.2"/><circle cx="215.8" cy="386.1" r="2.2"/><circle cx="221.5" cy="386.8" r="2.2"/><circle cx="225.9" cy="386.2" r="2.2"/><circle cx="200.4" cy="390.6" r="2.2"/><circle cx="204.9" cy="389.4" r="2.2"/><circle cx="208.3" cy="390.4" r="2.2"/><circle cx="212.6" cy="390.1" r="2.2"/><circle cx="218.3" cy="390.7" r="2.2"/><circle cx="222.9" cy="391.1" r="2.2"/><circle cx="226.7" cy="390.2" r="2.2"/></g>
<line x1="109.1" y1="320.7" x2="142.39999999999998" y2="320.7" stroke="#000" stroke-opacity="0.4" stroke-width="4.1" stroke-linecap="round"/>
<line x1="193.8" y1="379.3" x2="228.2" y2="379.3" stroke="#000" stroke-opacity="0.4" stroke-width="4.1" stroke-linecap="round"/>
<rect x="76.8" y="261.2" width="183.8" height="149.0" fill="none" stroke="#111" stroke-width="1.6"/>
<line x1="68.3" y1="284.2" x2="76.8" y2="284.2" stroke="#111" stroke-width="1.4"/>
<text x="64.2" y="289.2" font-size="16.8" text-anchor="end" fill="#111">6.2</text>
<line x1="68.3" y1="301.5" x2="76.8" y2="301.5" stroke="#111" stroke-width="1.4"/>
<text x="64.2" y="306.5" font-size="16.8" text-anchor="end" fill="#111">6.0</text>
<line x1="68.3" y1="319.6" x2="76.8" y2="319.6" stroke="#111" stroke-width="1.4"/>
<text x="64.2" y="324.6" font-size="16.8" text-anchor="end" fill="#111">5.8</text>
<line x1="68.3" y1="337.5" x2="76.8" y2="337.5" stroke="#111" stroke-width="1.4"/>
<text x="64.2" y="342.5" font-size="16.8" text-anchor="end" fill="#111">5.6</text>
<line x1="68.3" y1="354.8" x2="76.8" y2="354.8" stroke="#111" stroke-width="1.4"/>
<text x="64.2" y="359.8" font-size="16.8" text-anchor="end" fill="#111">5.4</text>
<line x1="68.3" y1="372.7" x2="76.8" y2="372.7" stroke="#111" stroke-width="1.4"/>
<text x="64.2" y="377.7" font-size="16.8" text-anchor="end" fill="#111">5.2</text>
<line x1="68.3" y1="390.8" x2="76.8" y2="390.8" stroke="#111" stroke-width="1.4"/>
<text x="64.2" y="395.8" font-size="16.8" text-anchor="end" fill="#111">5.0</text>
<line x1="68.3" y1="408.8" x2="76.8" y2="408.8" stroke="#111" stroke-width="1.4"/>
<text x="64.2" y="413.8" font-size="16.8" text-anchor="end" fill="#111">4.8</text>
<text x="87.2" y="239" font-size="13" fill="#111" textLength="125.2" lengthAdjust="spacingAndGlyphs">miR-663b 1.6-fold up</text>
<text x="87.2" y="255.2" font-size="13" fill="#111"><tspan font-style="italic">P</tspan> &lt; 10<tspan font-size="7.4" dy="-4">-16</tspan></text>
<g fill="#439b42"><circle cx="386.5" cy="355.0" r="2.95"/><circle cx="379.0" cy="357.9" r="2.95"/><circle cx="386.5" cy="363.6" r="2.95"/><circle cx="377.3" cy="366.3" r="2.95"/><circle cx="400.2" cy="368.9" r="2.95"/><circle cx="363.8" cy="371.2" r="2.95"/><circle cx="387.8" cy="373.0" r="2.95"/><circle cx="400.2" cy="376.0" r="2.95"/><circle cx="373.4" cy="375.0" r="2.95"/><circle cx="379.7" cy="375.0" r="2.95"/><circle cx="365.9" cy="378.7" r="2.95"/><circle cx="352.5" cy="383.8" r="2.95"/><circle cx="366.4" cy="394.9" r="2.95"/><circle cx="401.6" cy="390.9" r="2.95"/><circle cx="385.5" cy="403.5" r="2.95"/><circle cx="376.0" cy="398.8" r="2.95"/><circle cx="374.6" cy="396.1" r="2.95"/><circle cx="375.8" cy="399.6" r="2.95"/><circle cx="386.1" cy="398.4" r="2.95"/><circle cx="393.1" cy="397.3" r="2.95"/><circle cx="378.1" cy="366.2" r="2.95"/><circle cx="387.3" cy="365.0" r="2.95"/><circle cx="371.2" cy="376.5" r="2.95"/><circle cx="375.4" cy="376.8" r="2.95"/><circle cx="381.3" cy="376.6" r="2.95"/><circle cx="384.6" cy="376.1" r="2.95"/><circle cx="390.8" cy="376.7" r="2.95"/><circle cx="373.2" cy="380.4" r="2.95"/><circle cx="377.5" cy="378.9" r="2.95"/><circle cx="384.7" cy="378.6" r="2.95"/><circle cx="389.1" cy="379.8" r="2.95"/><circle cx="371.0" cy="382.3" r="2.95"/><circle cx="375.7" cy="383.5" r="2.95"/><circle cx="379.7" cy="382.5" r="2.95"/><circle cx="382.8" cy="382.5" r="2.95"/><circle cx="388.1" cy="382.8" r="2.95"/><circle cx="392.9" cy="383.5" r="2.95"/><circle cx="395.8" cy="383.9" r="2.95"/><circle cx="400.3" cy="383.8" r="2.95"/><circle cx="372.3" cy="386.4" r="2.95"/><circle cx="377.0" cy="387.2" r="2.95"/><circle cx="385.4" cy="387.4" r="2.95"/><circle cx="390.7" cy="386.5" r="2.95"/><circle cx="394.5" cy="386.9" r="2.95"/><circle cx="399.8" cy="386.3" r="2.95"/><circle cx="370.8" cy="390.4" r="2.95"/><circle cx="377.4" cy="390.4" r="2.95"/><circle cx="379.9" cy="391.6" r="2.95"/><circle cx="385.1" cy="389.6" r="2.95"/><circle cx="390.2" cy="389.6" r="2.95"/><circle cx="393.4" cy="391.4" r="2.95"/><circle cx="397.1" cy="391.5" r="2.95"/><circle cx="400.9" cy="389.3" r="2.95"/><circle cx="374.9" cy="393.5" r="2.95"/><circle cx="378.6" cy="393.6" r="2.95"/><circle cx="395.8" cy="393.1" r="2.95"/><circle cx="400.5" cy="395.0" r="2.95"/><circle cx="376.7" cy="397.2" r="2.95"/><circle cx="392.7" cy="397.3" r="2.95"/><circle cx="396.9" cy="396.5" r="2.95"/></g>
<g fill="#6cc462"><circle cx="386.5" cy="355.0" r="2.2"/><circle cx="379.0" cy="357.9" r="2.2"/><circle cx="386.5" cy="363.6" r="2.2"/><circle cx="377.3" cy="366.3" r="2.2"/><circle cx="400.2" cy="368.9" r="2.2"/><circle cx="363.8" cy="371.2" r="2.2"/><circle cx="387.8" cy="373.0" r="2.2"/><circle cx="400.2" cy="376.0" r="2.2"/><circle cx="373.4" cy="375.0" r="2.2"/><circle cx="379.7" cy="375.0" r="2.2"/><circle cx="365.9" cy="378.7" r="2.2"/><circle cx="352.5" cy="383.8" r="2.2"/><circle cx="366.4" cy="394.9" r="2.2"/><circle cx="401.6" cy="390.9" r="2.2"/><circle cx="385.5" cy="403.5" r="2.2"/><circle cx="376.0" cy="398.8" r="2.2"/><circle cx="374.6" cy="396.1" r="2.2"/><circle cx="375.8" cy="399.6" r="2.2"/><circle cx="386.1" cy="398.4" r="2.2"/><circle cx="393.1" cy="397.3" r="2.2"/><circle cx="378.1" cy="366.2" r="2.2"/><circle cx="387.3" cy="365.0" r="2.2"/><circle cx="371.2" cy="376.5" r="2.2"/><circle cx="375.4" cy="376.8" r="2.2"/><circle cx="381.3" cy="376.6" r="2.2"/><circle cx="384.6" cy="376.1" r="2.2"/><circle cx="390.8" cy="376.7" r="2.2"/><circle cx="373.2" cy="380.4" r="2.2"/><circle cx="377.5" cy="378.9" r="2.2"/><circle cx="384.7" cy="378.6" r="2.2"/><circle cx="389.1" cy="379.8" r="2.2"/><circle cx="371.0" cy="382.3" r="2.2"/><circle cx="375.7" cy="383.5" r="2.2"/><circle cx="379.7" cy="382.5" r="2.2"/><circle cx="382.8" cy="382.5" r="2.2"/><circle cx="388.1" cy="382.8" r="2.2"/><circle cx="392.9" cy="383.5" r="2.2"/><circle cx="395.8" cy="383.9" r="2.2"/><circle cx="400.3" cy="383.8" r="2.2"/><circle cx="372.3" cy="386.4" r="2.2"/><circle cx="377.0" cy="387.2" r="2.2"/><circle cx="385.4" cy="387.4" r="2.2"/><circle cx="390.7" cy="386.5" r="2.2"/><circle cx="394.5" cy="386.9" r="2.2"/><circle cx="399.8" cy="386.3" r="2.2"/><circle cx="370.8" cy="390.4" r="2.2"/><circle cx="377.4" cy="390.4" r="2.2"/><circle cx="379.9" cy="391.6" r="2.2"/><circle cx="385.1" cy="389.6" r="2.2"/><circle cx="390.2" cy="389.6" r="2.2"/><circle cx="393.4" cy="391.4" r="2.2"/><circle cx="397.1" cy="391.5" r="2.2"/><circle cx="400.9" cy="389.3" r="2.2"/><circle cx="374.9" cy="393.5" r="2.2"/><circle cx="378.6" cy="393.6" r="2.2"/><circle cx="395.8" cy="393.1" r="2.2"/><circle cx="400.5" cy="395.0" r="2.2"/><circle cx="376.7" cy="397.2" r="2.2"/><circle cx="392.7" cy="397.3" r="2.2"/><circle cx="396.9" cy="396.5" r="2.2"/></g>
<g fill="#d26c14"><circle cx="464.2" cy="278.1" r="2.95"/><circle cx="463.6" cy="287.3" r="2.95"/><circle cx="461.9" cy="290.2" r="2.95"/><circle cx="464.8" cy="292.5" r="2.95"/><circle cx="457.3" cy="296.5" r="2.95"/><circle cx="478.1" cy="294.8" r="2.95"/><circle cx="452.1" cy="304.0" r="2.95"/><circle cx="455.6" cy="304.0" r="2.95"/><circle cx="479.8" cy="303.4" r="2.95"/><circle cx="478.6" cy="308.1" r="2.95"/><circle cx="459.0" cy="310.4" r="2.95"/><circle cx="449.8" cy="312.1" r="2.95"/><circle cx="455.0" cy="315.6" r="2.95"/><circle cx="474.6" cy="309.8" r="2.95"/><circle cx="470.6" cy="313.3" r="2.95"/><circle cx="472.9" cy="315.6" r="2.95"/><circle cx="475.8" cy="317.3" r="2.95"/><circle cx="478.6" cy="317.9" r="2.95"/><circle cx="447.5" cy="326.5" r="2.95"/><circle cx="456.1" cy="326.5" r="2.95"/><circle cx="460.8" cy="325.4" r="2.95"/><circle cx="465.4" cy="323.1" r="2.95"/><circle cx="469.4" cy="326.5" r="2.95"/><circle cx="482.7" cy="330.5" r="2.95"/><circle cx="458.5" cy="331.1" r="2.95"/><circle cx="466.5" cy="332.9" r="2.95"/><circle cx="456.1" cy="336.3" r="2.95"/><circle cx="463.1" cy="336.9" r="2.95"/><circle cx="476.9" cy="336.9" r="2.95"/><circle cx="489.6" cy="338.5" r="2.95"/><circle cx="457.3" cy="332.3" r="2.95"/><circle cx="461.3" cy="337.5" r="2.95"/><circle cx="467.7" cy="336.9" r="2.95"/><circle cx="474.6" cy="339.2" r="2.95"/><circle cx="479.2" cy="338.1" r="2.95"/><circle cx="482.7" cy="338.7" r="2.95"/><circle cx="451.5" cy="344.4" r="2.95"/><circle cx="458.5" cy="343.8" r="2.95"/><circle cx="467.7" cy="344.4" r="2.95"/><circle cx="460.2" cy="347.3" r="2.95"/><circle cx="450.4" cy="356.0" r="2.95"/><circle cx="462.5" cy="353.6" r="2.95"/><circle cx="466.5" cy="356.0" r="2.95"/><circle cx="471.1" cy="354.8" r="2.95"/><circle cx="474.6" cy="354.2" r="2.95"/><circle cx="478.1" cy="357.7" r="2.95"/><circle cx="455.0" cy="364.6" r="2.95"/><circle cx="460.8" cy="362.9" r="2.95"/><circle cx="464.8" cy="364.6" r="2.95"/><circle cx="446.9" cy="369.2" r="2.95"/><circle cx="455.0" cy="371.5" r="2.95"/><circle cx="455.0" cy="375.6" r="2.95"/><circle cx="464.8" cy="373.8" r="2.95"/><circle cx="469.4" cy="373.3" r="2.95"/><circle cx="466.5" cy="377.3" r="2.95"/><circle cx="470.0" cy="380.7" r="2.95"/><circle cx="474.0" cy="382.5" r="2.95"/><circle cx="464.2" cy="384.2" r="2.95"/><circle cx="476.9" cy="384.2" r="2.95"/><circle cx="481.5" cy="386.5" r="2.95"/><circle cx="456.1" cy="388.8" r="2.95"/><circle cx="467.7" cy="390.0" r="2.95"/><circle cx="471.7" cy="391.1" r="2.95"/><circle cx="479.8" cy="390.0" r="2.95"/><circle cx="462.0" cy="328.0" r="2.95"/><circle cx="471.0" cy="329.0" r="2.95"/><circle cx="476.0" cy="333.0" r="2.95"/><circle cx="470.0" cy="335.0" r="2.95"/><circle cx="452.0" cy="338.0" r="2.95"/><circle cx="462.0" cy="341.0" r="2.95"/><circle cx="473.0" cy="343.0" r="2.95"/><circle cx="480.0" cy="344.0" r="2.95"/><circle cx="466.0" cy="383.0" r="2.95"/><circle cx="471.0" cy="386.0" r="2.95"/><circle cx="476.0" cy="389.0" r="2.95"/><circle cx="461.0" cy="380.0" r="2.95"/><circle cx="468.0" cy="370.0" r="2.95"/><circle cx="473.0" cy="376.0" r="2.95"/></g>
<g fill="#f48e2a"><circle cx="464.2" cy="278.1" r="2.2"/><circle cx="463.6" cy="287.3" r="2.2"/><circle cx="461.9" cy="290.2" r="2.2"/><circle cx="464.8" cy="292.5" r="2.2"/><circle cx="457.3" cy="296.5" r="2.2"/><circle cx="478.1" cy="294.8" r="2.2"/><circle cx="452.1" cy="304.0" r="2.2"/><circle cx="455.6" cy="304.0" r="2.2"/><circle cx="479.8" cy="303.4" r="2.2"/><circle cx="478.6" cy="308.1" r="2.2"/><circle cx="459.0" cy="310.4" r="2.2"/><circle cx="449.8" cy="312.1" r="2.2"/><circle cx="455.0" cy="315.6" r="2.2"/><circle cx="474.6" cy="309.8" r="2.2"/><circle cx="470.6" cy="313.3" r="2.2"/><circle cx="472.9" cy="315.6" r="2.2"/><circle cx="475.8" cy="317.3" r="2.2"/><circle cx="478.6" cy="317.9" r="2.2"/><circle cx="447.5" cy="326.5" r="2.2"/><circle cx="456.1" cy="326.5" r="2.2"/><circle cx="460.8" cy="325.4" r="2.2"/><circle cx="465.4" cy="323.1" r="2.2"/><circle cx="469.4" cy="326.5" r="2.2"/><circle cx="482.7" cy="330.5" r="2.2"/><circle cx="458.5" cy="331.1" r="2.2"/><circle cx="466.5" cy="332.9" r="2.2"/><circle cx="456.1" cy="336.3" r="2.2"/><circle cx="463.1" cy="336.9" r="2.2"/><circle cx="476.9" cy="336.9" r="2.2"/><circle cx="489.6" cy="338.5" r="2.2"/><circle cx="457.3" cy="332.3" r="2.2"/><circle cx="461.3" cy="337.5" r="2.2"/><circle cx="467.7" cy="336.9" r="2.2"/><circle cx="474.6" cy="339.2" r="2.2"/><circle cx="479.2" cy="338.1" r="2.2"/><circle cx="482.7" cy="338.7" r="2.2"/><circle cx="451.5" cy="344.4" r="2.2"/><circle cx="458.5" cy="343.8" r="2.2"/><circle cx="467.7" cy="344.4" r="2.2"/><circle cx="460.2" cy="347.3" r="2.2"/><circle cx="450.4" cy="356.0" r="2.2"/><circle cx="462.5" cy="353.6" r="2.2"/><circle cx="466.5" cy="356.0" r="2.2"/><circle cx="471.1" cy="354.8" r="2.2"/><circle cx="474.6" cy="354.2" r="2.2"/><circle cx="478.1" cy="357.7" r="2.2"/><circle cx="455.0" cy="364.6" r="2.2"/><circle cx="460.8" cy="362.9" r="2.2"/><circle cx="464.8" cy="364.6" r="2.2"/><circle cx="446.9" cy="369.2" r="2.2"/><circle cx="455.0" cy="371.5" r="2.2"/><circle cx="455.0" cy="375.6" r="2.2"/><circle cx="464.8" cy="373.8" r="2.2"/><circle cx="469.4" cy="373.3" r="2.2"/><circle cx="466.5" cy="377.3" r="2.2"/><circle cx="470.0" cy="380.7" r="2.2"/><circle cx="474.0" cy="382.5" r="2.2"/><circle cx="464.2" cy="384.2" r="2.2"/><circle cx="476.9" cy="384.2" r="2.2"/><circle cx="481.5" cy="386.5" r="2.2"/><circle cx="456.1" cy="388.8" r="2.2"/><circle cx="467.7" cy="390.0" r="2.2"/><circle cx="471.7" cy="391.1" r="2.2"/><circle cx="479.8" cy="390.0" r="2.2"/><circle cx="462.0" cy="328.0" r="2.2"/><circle cx="471.0" cy="329.0" r="2.2"/><circle cx="476.0" cy="333.0" r="2.2"/><circle cx="470.0" cy="335.0" r="2.2"/><circle cx="452.0" cy="338.0" r="2.2"/><circle cx="462.0" cy="341.0" r="2.2"/><circle cx="473.0" cy="343.0" r="2.2"/><circle cx="480.0" cy="344.0" r="2.2"/><circle cx="466.0" cy="383.0" r="2.2"/><circle cx="471.0" cy="386.0" r="2.2"/><circle cx="476.0" cy="389.0" r="2.2"/><circle cx="461.0" cy="380.0" r="2.2"/><circle cx="468.0" cy="370.0" r="2.2"/><circle cx="473.0" cy="376.0" r="2.2"/></g>
<line x1="365.40000000000003" y1="384.3" x2="398.7" y2="384.3" stroke="#000" stroke-opacity="0.4" stroke-width="4.1" stroke-linecap="round"/>
<line x1="451.0" y1="344.90000000000003" x2="484.3" y2="344.90000000000003" stroke="#000" stroke-opacity="0.4" stroke-width="4.1" stroke-linecap="round"/>
<rect x="333" y="261" width="183" height="148.2" fill="none" stroke="#111" stroke-width="1.6"/>
<line x1="324.5" y1="279.8" x2="333" y2="279.8" stroke="#111" stroke-width="1.4"/>
<text x="320.4" y="284.8" font-size="16.8" text-anchor="end" fill="#111">9.0</text>
<line x1="324.5" y1="298.7" x2="333" y2="298.7" stroke="#111" stroke-width="1.4"/>
<text x="320.4" y="303.7" font-size="16.8" text-anchor="end" fill="#111">8.5</text>
<line x1="324.5" y1="317.7" x2="333" y2="317.7" stroke="#111" stroke-width="1.4"/>
<text x="320.4" y="322.7" font-size="16.8" text-anchor="end" fill="#111">8.0</text>
<line x1="324.5" y1="336.5" x2="333" y2="336.5" stroke="#111" stroke-width="1.4"/>
<text x="320.4" y="341.5" font-size="16.8" text-anchor="end" fill="#111">7.5</text>
<line x1="324.5" y1="355.4" x2="333" y2="355.4" stroke="#111" stroke-width="1.4"/>
<text x="320.4" y="360.4" font-size="16.8" text-anchor="end" fill="#111">7.0</text>
<line x1="324.5" y1="374.2" x2="333" y2="374.2" stroke="#111" stroke-width="1.4"/>
<text x="320.4" y="379.2" font-size="16.8" text-anchor="end" fill="#111">6.5</text>
<line x1="324.5" y1="393.1" x2="333" y2="393.1" stroke="#111" stroke-width="1.4"/>
<text x="320.4" y="398.1" font-size="16.8" text-anchor="end" fill="#111">6.0</text>
<text x="346.4" y="239" font-size="13" fill="#111" textLength="134.1" lengthAdjust="spacingAndGlyphs">miR-205 2.1-fold down</text>
<text x="346.4" y="255.7" font-size="13" fill="#111"><tspan font-style="italic">P</tspan> &lt; 10<tspan font-size="7.4" dy="-4">-12</tspan></text>
<line x1="382.5" y1="409.2" x2="382.5" y2="417.7" stroke="#111" stroke-width="1.4"/>
<line x1="468" y1="409.2" x2="468" y2="417.7" stroke="#111" stroke-width="1.4"/>
<text transform="translate(386.5,424.6) rotate(-90)" font-size="13.6" text-anchor="end" fill="#111">CTCL</text>
<text transform="translate(472.0,424.6) rotate(-90)" font-size="13.6" text-anchor="end" fill="#111">Benign</text>
<g fill="#439b42"><circle cx="96.3" cy="508.8" r="2.95"/><circle cx="122.9" cy="507.1" r="2.95"/><circle cx="110.2" cy="518.1" r="2.95"/><circle cx="117.1" cy="515.2" r="2.95"/><circle cx="130.4" cy="512.9" r="2.95"/><circle cx="135.6" cy="516.3" r="2.95"/><circle cx="126.9" cy="518.1" r="2.95"/><circle cx="140.7" cy="521.5" r="2.95"/><circle cx="114.8" cy="521.5" r="2.95"/><circle cx="120.0" cy="520.4" r="2.95"/><circle cx="124.6" cy="523.8" r="2.95"/><circle cx="132.7" cy="522.7" r="2.95"/><circle cx="137.3" cy="525.6" r="2.95"/><circle cx="143.1" cy="527.3" r="2.95"/><circle cx="144.2" cy="529.6" r="2.95"/><circle cx="117.7" cy="528.4" r="2.95"/><circle cx="122.3" cy="528.4" r="2.95"/><circle cx="128.1" cy="527.3" r="2.95"/><circle cx="133.8" cy="529.6" r="2.95"/><circle cx="139.6" cy="530.8" r="2.95"/><circle cx="118.8" cy="533.1" r="2.95"/><circle cx="124.6" cy="533.1" r="2.95"/><circle cx="108.5" cy="536.0" r="2.95"/><circle cx="107.3" cy="541.1" r="2.95"/><circle cx="143.1" cy="538.6" r="2.95"/><circle cx="116.5" cy="543.4" r="2.95"/><circle cx="124.6" cy="542.3" r="2.95"/><circle cx="130.4" cy="543.4" r="2.95"/><circle cx="122.9" cy="549.2" r="2.95"/><circle cx="113.1" cy="538.3" r="2.95"/><circle cx="120.0" cy="537.7" r="2.95"/><circle cx="129.4" cy="564.8" r="2.95"/><circle cx="124.2" cy="594.4" r="2.95"/><circle cx="125.4" cy="603.7" r="2.95"/><circle cx="120.5" cy="609.0" r="2.95"/><circle cx="134.0" cy="604.6" r="2.95"/><circle cx="136.9" cy="601.7" r="2.95"/><circle cx="140.4" cy="601.1" r="2.95"/><circle cx="143.8" cy="603.4" r="2.95"/><circle cx="145.0" cy="606.3" r="2.95"/><circle cx="134.6" cy="606.3" r="2.95"/><circle cx="116.5" cy="523.0" r="2.95"/><circle cx="121.0" cy="522.0" r="2.95"/><circle cx="125.9" cy="523.1" r="2.95"/><circle cx="131.5" cy="522.3" r="2.95"/><circle cx="136.5" cy="522.1" r="2.95"/><circle cx="138.9" cy="522.6" r="2.95"/><circle cx="118.8" cy="526.3" r="2.95"/><circle cx="121.4" cy="527.0" r="2.95"/><circle cx="126.8" cy="525.6" r="2.95"/><circle cx="131.7" cy="527.1" r="2.95"/><circle cx="135.9" cy="525.5" r="2.95"/><circle cx="139.6" cy="525.2" r="2.95"/><circle cx="118.0" cy="530.0" r="2.95"/><circle cx="122.0" cy="531.2" r="2.95"/><circle cx="124.1" cy="529.3" r="2.95"/><circle cx="128.6" cy="529.0" r="2.95"/><circle cx="132.4" cy="530.2" r="2.95"/><circle cx="137.6" cy="529.8" r="2.95"/><circle cx="141.1" cy="529.7" r="2.95"/><circle cx="117.8" cy="533.5" r="2.95"/><circle cx="121.6" cy="534.0" r="2.95"/><circle cx="127.0" cy="533.3" r="2.95"/><circle cx="124.5" cy="538" r="2.95"/><circle cx="128" cy="538.5" r="2.95"/><circle cx="116.5" cy="537.5" r="2.95"/></g>
<g fill="#6cc462"><circle cx="96.3" cy="508.8" r="2.2"/><circle cx="122.9" cy="507.1" r="2.2"/><circle cx="110.2" cy="518.1" r="2.2"/><circle cx="117.1" cy="515.2" r="2.2"/><circle cx="130.4" cy="512.9" r="2.2"/><circle cx="135.6" cy="516.3" r="2.2"/><circle cx="126.9" cy="518.1" r="2.2"/><circle cx="140.7" cy="521.5" r="2.2"/><circle cx="114.8" cy="521.5" r="2.2"/><circle cx="120.0" cy="520.4" r="2.2"/><circle cx="124.6" cy="523.8" r="2.2"/><circle cx="132.7" cy="522.7" r="2.2"/><circle cx="137.3" cy="525.6" r="2.2"/><circle cx="143.1" cy="527.3" r="2.2"/><circle cx="144.2" cy="529.6" r="2.2"/><circle cx="117.7" cy="528.4" r="2.2"/><circle cx="122.3" cy="528.4" r="2.2"/><circle cx="128.1" cy="527.3" r="2.2"/><circle cx="133.8" cy="529.6" r="2.2"/><circle cx="139.6" cy="530.8" r="2.2"/><circle cx="118.8" cy="533.1" r="2.2"/><circle cx="124.6" cy="533.1" r="2.2"/><circle cx="108.5" cy="536.0" r="2.2"/><circle cx="107.3" cy="541.1" r="2.2"/><circle cx="143.1" cy="538.6" r="2.2"/><circle cx="116.5" cy="543.4" r="2.2"/><circle cx="124.6" cy="542.3" r="2.2"/><circle cx="130.4" cy="543.4" r="2.2"/><circle cx="122.9" cy="549.2" r="2.2"/><circle cx="113.1" cy="538.3" r="2.2"/><circle cx="120.0" cy="537.7" r="2.2"/><circle cx="129.4" cy="564.8" r="2.2"/><circle cx="124.2" cy="594.4" r="2.2"/><circle cx="125.4" cy="603.7" r="2.2"/><circle cx="120.5" cy="609.0" r="2.2"/><circle cx="134.0" cy="604.6" r="2.2"/><circle cx="136.9" cy="601.7" r="2.2"/><circle cx="140.4" cy="601.1" r="2.2"/><circle cx="143.8" cy="603.4" r="2.2"/><circle cx="145.0" cy="606.3" r="2.2"/><circle cx="134.6" cy="606.3" r="2.2"/><circle cx="116.5" cy="523.0" r="2.2"/><circle cx="121.0" cy="522.0" r="2.2"/><circle cx="125.9" cy="523.1" r="2.2"/><circle cx="131.5" cy="522.3" r="2.2"/><circle cx="136.5" cy="522.1" r="2.2"/><circle cx="138.9" cy="522.6" r="2.2"/><circle cx="118.8" cy="526.3" r="2.2"/><circle cx="121.4" cy="527.0" r="2.2"/><circle cx="126.8" cy="525.6" r="2.2"/><circle cx="131.7" cy="527.1" r="2.2"/><circle cx="135.9" cy="525.5" r="2.2"/><circle cx="139.6" cy="525.2" r="2.2"/><circle cx="118.0" cy="530.0" r="2.2"/><circle cx="122.0" cy="531.2" r="2.2"/><circle cx="124.1" cy="529.3" r="2.2"/><circle cx="128.6" cy="529.0" r="2.2"/><circle cx="132.4" cy="530.2" r="2.2"/><circle cx="137.6" cy="529.8" r="2.2"/><circle cx="141.1" cy="529.7" r="2.2"/><circle cx="117.8" cy="533.5" r="2.2"/><circle cx="121.6" cy="534.0" r="2.2"/><circle cx="127.0" cy="533.3" r="2.2"/><circle cx="124.5" cy="538" r="2.2"/><circle cx="128" cy="538.5" r="2.2"/><circle cx="116.5" cy="537.5" r="2.2"/></g>
<g fill="#d26c14"><circle cx="198.5" cy="487.8" r="2.95"/><circle cx="195.0" cy="531.3" r="2.95"/><circle cx="201.3" cy="531.3" r="2.95"/><circle cx="203.6" cy="545.5" r="2.95"/><circle cx="206.5" cy="545.2" r="2.95"/><circle cx="220.4" cy="556.2" r="2.95"/><circle cx="201.3" cy="558.0" r="2.95"/><circle cx="195.6" cy="560.4" r="2.95"/><circle cx="226.1" cy="560.4" r="2.95"/><circle cx="211.7" cy="562.1" r="2.95"/><circle cx="199.6" cy="568.5" r="2.95"/><circle cx="205.4" cy="574.2" r="2.95"/><circle cx="213.4" cy="577.1" r="2.95"/><circle cx="213.4" cy="580.0" r="2.95"/><circle cx="210.0" cy="584.6" r="2.95"/><circle cx="208.3" cy="586.9" r="2.95"/><circle cx="191.0" cy="588.6" r="2.95"/><circle cx="214.6" cy="585.8" r="2.95"/><circle cx="233.6" cy="594.4" r="2.95"/><circle cx="190.4" cy="607.7" r="2.95"/><circle cx="193.8" cy="605.4" r="2.95"/><circle cx="201.0" cy="591.0" r="2.95"/><circle cx="207.0" cy="589.0" r="2.95"/><circle cx="214.0" cy="590.5" r="2.95"/><circle cx="221.0" cy="590.0" r="2.95"/><circle cx="226.0" cy="593.0" r="2.95"/><circle cx="197.0" cy="595.0" r="2.95"/><circle cx="199.0" cy="594.0" r="2.95"/><circle cx="205.0" cy="593.5" r="2.95"/><circle cx="211.0" cy="594.0" r="2.95"/><circle cx="217.0" cy="593.5" r="2.95"/><circle cx="223.0" cy="594.5" r="2.95"/><circle cx="196.8" cy="596.9" r="2.95"/><circle cx="202.0" cy="597.9" r="2.95"/><circle cx="204.2" cy="597.5" r="2.95"/><circle cx="209.4" cy="597.2" r="2.95"/><circle cx="213.3" cy="598.0" r="2.95"/><circle cx="218.6" cy="598.1" r="2.95"/><circle cx="220.9" cy="596.2" r="2.95"/><circle cx="226.4" cy="598.1" r="2.95"/><circle cx="199.4" cy="601.4" r="2.95"/><circle cx="203.3" cy="599.7" r="2.95"/><circle cx="206.7" cy="601.8" r="2.95"/><circle cx="211.0" cy="599.9" r="2.95"/><circle cx="216.0" cy="601.3" r="2.95"/><circle cx="218.8" cy="600.9" r="2.95"/><circle cx="223.7" cy="600.1" r="2.95"/><circle cx="196.5" cy="604.5" r="2.95"/><circle cx="201.5" cy="605.5" r="2.95"/><circle cx="204.6" cy="604.0" r="2.95"/><circle cx="209.9" cy="604.1" r="2.95"/><circle cx="213.6" cy="605.0" r="2.95"/><circle cx="217.1" cy="605.0" r="2.95"/><circle cx="221.2" cy="603.5" r="2.95"/><circle cx="225.8" cy="605.0" r="2.95"/><circle cx="199.8" cy="609.0" r="2.95"/><circle cx="202.5" cy="609.5" r="2.95"/><circle cx="208.1" cy="607.8" r="2.95"/><circle cx="212.1" cy="607.9" r="2.95"/><circle cx="215.6" cy="607.6" r="2.95"/><circle cx="219.6" cy="608.8" r="2.95"/><circle cx="223.1" cy="608.1" r="2.95"/><circle cx="196.1" cy="611.1" r="2.95"/><circle cx="200.9" cy="613.2" r="2.95"/><circle cx="205.8" cy="613.4" r="2.95"/><circle cx="209.0" cy="611.4" r="2.95"/><circle cx="214.2" cy="611.1" r="2.95"/><circle cx="217.4" cy="611.9" r="2.95"/><circle cx="221.1" cy="611.0" r="2.95"/><circle cx="225.6" cy="613.3" r="2.95"/></g>
<g fill="#f48e2a"><circle cx="198.5" cy="487.8" r="2.2"/><circle cx="195.0" cy="531.3" r="2.2"/><circle cx="201.3" cy="531.3" r="2.2"/><circle cx="203.6" cy="545.5" r="2.2"/><circle cx="206.5" cy="545.2" r="2.2"/><circle cx="220.4" cy="556.2" r="2.2"/><circle cx="201.3" cy="558.0" r="2.2"/><circle cx="195.6" cy="560.4" r="2.2"/><circle cx="226.1" cy="560.4" r="2.2"/><circle cx="211.7" cy="562.1" r="2.2"/><circle cx="199.6" cy="568.5" r="2.2"/><circle cx="205.4" cy="574.2" r="2.2"/><circle cx="213.4" cy="577.1" r="2.2"/><circle cx="213.4" cy="580.0" r="2.2"/><circle cx="210.0" cy="584.6" r="2.2"/><circle cx="208.3" cy="586.9" r="2.2"/><circle cx="191.0" cy="588.6" r="2.2"/><circle cx="214.6" cy="585.8" r="2.2"/><circle cx="233.6" cy="594.4" r="2.2"/><circle cx="190.4" cy="607.7" r="2.2"/><circle cx="193.8" cy="605.4" r="2.2"/><circle cx="201.0" cy="591.0" r="2.2"/><circle cx="207.0" cy="589.0" r="2.2"/><circle cx="214.0" cy="590.5" r="2.2"/><circle cx="221.0" cy="590.0" r="2.2"/><circle cx="226.0" cy="593.0" r="2.2"/><circle cx="197.0" cy="595.0" r="2.2"/><circle cx="199.0" cy="594.0" r="2.2"/><circle cx="205.0" cy="593.5" r="2.2"/><circle cx="211.0" cy="594.0" r="2.2"/><circle cx="217.0" cy="593.5" r="2.2"/><circle cx="223.0" cy="594.5" r="2.2"/><circle cx="196.8" cy="596.9" r="2.2"/><circle cx="202.0" cy="597.9" r="2.2"/><circle cx="204.2" cy="597.5" r="2.2"/><circle cx="209.4" cy="597.2" r="2.2"/><circle cx="213.3" cy="598.0" r="2.2"/><circle cx="218.6" cy="598.1" r="2.2"/><circle cx="220.9" cy="596.2" r="2.2"/><circle cx="226.4" cy="598.1" r="2.2"/><circle cx="199.4" cy="601.4" r="2.2"/><circle cx="203.3" cy="599.7" r="2.2"/><circle cx="206.7" cy="601.8" r="2.2"/><circle cx="211.0" cy="599.9" r="2.2"/><circle cx="216.0" cy="601.3" r="2.2"/><circle cx="218.8" cy="600.9" r="2.2"/><circle cx="223.7" cy="600.1" r="2.2"/><circle cx="196.5" cy="604.5" r="2.2"/><circle cx="201.5" cy="605.5" r="2.2"/><circle cx="204.6" cy="604.0" r="2.2"/><circle cx="209.9" cy="604.1" r="2.2"/><circle cx="213.6" cy="605.0" r="2.2"/><circle cx="217.1" cy="605.0" r="2.2"/><circle cx="221.2" cy="603.5" r="2.2"/><circle cx="225.8" cy="605.0" r="2.2"/><circle cx="199.8" cy="609.0" r="2.2"/><circle cx="202.5" cy="609.5" r="2.2"/><circle cx="208.1" cy="607.8" r="2.2"/><circle cx="212.1" cy="607.9" r="2.2"/><circle cx="215.6" cy="607.6" r="2.2"/><circle cx="219.6" cy="608.8" r="2.2"/><circle cx="223.1" cy="608.1" r="2.2"/><circle cx="196.1" cy="611.1" r="2.2"/><circle cx="200.9" cy="613.2" r="2.2"/><circle cx="205.8" cy="613.4" r="2.2"/><circle cx="209.0" cy="611.4" r="2.2"/><circle cx="214.2" cy="611.1" r="2.2"/><circle cx="217.4" cy="611.9" r="2.2"/><circle cx="221.1" cy="611.0" r="2.2"/><circle cx="225.6" cy="613.3" r="2.2"/></g>
<line x1="107.89999999999999" y1="538.9" x2="142.39999999999998" y2="538.9" stroke="#000" stroke-opacity="0.4" stroke-width="4.1" stroke-linecap="round"/>
<line x1="194.5" y1="593.3" x2="227.79999999999998" y2="593.3" stroke="#000" stroke-opacity="0.4" stroke-width="4.1" stroke-linecap="round"/>
<rect x="76.8" y="471.5" width="183.8" height="147.0" fill="none" stroke="#111" stroke-width="1.6"/>
<line x1="68.3" y1="510.4" x2="76.8" y2="510.4" stroke="#111" stroke-width="1.4"/>
<text x="64.2" y="515.4" font-size="16.8" text-anchor="end" fill="#111">6.5</text>
<line x1="68.3" y1="550.8" x2="76.8" y2="550.8" stroke="#111" stroke-width="1.4"/>
<text x="64.2" y="555.8" font-size="16.8" text-anchor="end" fill="#111">6.0</text>
<line x1="68.3" y1="592.3" x2="76.8" y2="592.3" stroke="#111" stroke-width="1.4"/>
<text x="64.2" y="597.3" font-size="16.8" text-anchor="end" fill="#111">5.5</text>
<text x="87.2" y="448.3" font-size="13" fill="#111" textLength="116.4" lengthAdjust="spacingAndGlyphs">miR-711 1.6-fold up</text>
<text x="87.2" y="464.9" font-size="13" fill="#111"><tspan font-style="italic">P</tspan> &lt; 10<tspan font-size="7.4" dy="-4">-14</tspan></text>
<line x1="126" y1="618.5" x2="126" y2="627.0" stroke="#111" stroke-width="1.4"/>
<line x1="211.5" y1="618.5" x2="211.5" y2="627.0" stroke="#111" stroke-width="1.4"/>
<text transform="translate(130.0,635.2) rotate(-90)" font-size="13.6" text-anchor="end" fill="#111">CTCL</text>
<text transform="translate(215.5,635.2) rotate(-90)" font-size="13.6" text-anchor="end" fill="#111">Benign</text>
<g fill="#439b42"><circle cx="118.6" cy="750.5" r="2.95"/><circle cx="129.6" cy="759.8" r="2.95"/><circle cx="126.1" cy="762.3" r="2.95"/><circle cx="115.8" cy="763.7" r="2.95"/><circle cx="134.2" cy="766.9" r="2.95"/><circle cx="142.3" cy="769.2" r="2.95"/><circle cx="112.9" cy="772.1" r="2.95"/><circle cx="118.1" cy="772.1" r="2.95"/><circle cx="122.7" cy="771.5" r="2.95"/><circle cx="128.4" cy="770.4" r="2.95"/><circle cx="131.9" cy="772.7" r="2.95"/><circle cx="127.3" cy="775.6" r="2.95"/><circle cx="135.4" cy="776.1" r="2.95"/><circle cx="108.8" cy="779.0" r="2.95"/><circle cx="123.8" cy="779.6" r="2.95"/><circle cx="129.6" cy="779.6" r="2.95"/><circle cx="106.0" cy="783.6" r="2.95"/><circle cx="114.0" cy="785.4" r="2.95"/><circle cx="123.8" cy="784.2" r="2.95"/><circle cx="129.6" cy="784.8" r="2.95"/><circle cx="133.6" cy="788.8" r="2.95"/><circle cx="128.4" cy="787.7" r="2.95"/><circle cx="114.6" cy="791.1" r="2.95"/><circle cx="109.4" cy="792.3" r="2.95"/><circle cx="126.1" cy="791.7" r="2.95"/><circle cx="108.8" cy="797.5" r="2.95"/><circle cx="118.6" cy="799.8" r="2.95"/><circle cx="134.2" cy="797.8" r="2.95"/></g>
<g fill="#6cc462"><circle cx="118.6" cy="750.5" r="2.2"/><circle cx="129.6" cy="759.8" r="2.2"/><circle cx="126.1" cy="762.3" r="2.2"/><circle cx="115.8" cy="763.7" r="2.2"/><circle cx="134.2" cy="766.9" r="2.2"/><circle cx="142.3" cy="769.2" r="2.2"/><circle cx="112.9" cy="772.1" r="2.2"/><circle cx="118.1" cy="772.1" r="2.2"/><circle cx="122.7" cy="771.5" r="2.2"/><circle cx="128.4" cy="770.4" r="2.2"/><circle cx="131.9" cy="772.7" r="2.2"/><circle cx="127.3" cy="775.6" r="2.2"/><circle cx="135.4" cy="776.1" r="2.2"/><circle cx="108.8" cy="779.0" r="2.2"/><circle cx="123.8" cy="779.6" r="2.2"/><circle cx="129.6" cy="779.6" r="2.2"/><circle cx="106.0" cy="783.6" r="2.2"/><circle cx="114.0" cy="785.4" r="2.2"/><circle cx="123.8" cy="784.2" r="2.2"/><circle cx="129.6" cy="784.8" r="2.2"/><circle cx="133.6" cy="788.8" r="2.2"/><circle cx="128.4" cy="787.7" r="2.2"/><circle cx="114.6" cy="791.1" r="2.2"/><circle cx="109.4" cy="792.3" r="2.2"/><circle cx="126.1" cy="791.7" r="2.2"/><circle cx="108.8" cy="797.5" r="2.2"/><circle cx="118.6" cy="799.8" r="2.2"/><circle cx="134.2" cy="797.8" r="2.2"/></g>
<g fill="#d26c14"><circle cx="197.3" cy="769.6" r="2.95"/><circle cx="208.8" cy="777.1" r="2.95"/><circle cx="193.3" cy="781.7" r="2.95"/><circle cx="203.6" cy="783.5" r="2.95"/><circle cx="214.6" cy="780.0" r="2.95"/><circle cx="220.4" cy="780.6" r="2.95"/><circle cx="210.0" cy="784.6" r="2.95"/><circle cx="206.5" cy="788.1" r="2.95"/><circle cx="213.4" cy="791.5" r="2.95"/><circle cx="231.9" cy="793.3" r="2.95"/><circle cx="204.2" cy="795.6" r="2.95"/><circle cx="215.8" cy="794.4" r="2.95"/><circle cx="218.6" cy="796.1" r="2.95"/><circle cx="197.9" cy="797.3" r="2.95"/><circle cx="196.1" cy="800.8" r="2.95"/><circle cx="210.0" cy="800.8" r="2.95"/><circle cx="214.6" cy="801.3" r="2.95"/><circle cx="199.0" cy="801.9" r="2.95"/><circle cx="194.4" cy="810.6" r="2.95"/><circle cx="208.8" cy="806.5" r="2.95"/><circle cx="215.8" cy="804.8" r="2.95"/><circle cx="220.4" cy="806.5" r="2.95"/><circle cx="210.0" cy="814.6" r="2.95"/><circle cx="216.9" cy="813.4" r="2.95"/><circle cx="220.4" cy="815.7" r="2.95"/><circle cx="201.3" cy="818.6" r="2.95"/><circle cx="197.3" cy="821.5" r="2.95"/><circle cx="210.0" cy="819.2" r="2.95"/><circle cx="214.6" cy="819.2" r="2.95"/><circle cx="219.2" cy="819.8" r="2.95"/><circle cx="211.1" cy="823.8" r="2.95"/><circle cx="216.9" cy="823.8" r="2.95"/><circle cx="223.3" cy="825.0" r="2.95"/><circle cx="204.2" cy="829.0" r="2.95"/><circle cx="214.6" cy="827.9" r="2.95"/><circle cx="215.8" cy="829.2" r="2.95"/><circle cx="204.2" cy="831.5" r="2.95"/><circle cx="210.6" cy="832.7" r="2.95"/><circle cx="211.1" cy="835.0" r="2.95"/><circle cx="214.6" cy="836.1" r="2.95"/><circle cx="203.1" cy="842.5" r="2.95"/><circle cx="215.2" cy="847.1" r="2.95"/><circle cx="220.9" cy="876.5" r="2.95"/></g>
<g fill="#f48e2a"><circle cx="197.3" cy="769.6" r="2.2"/><circle cx="208.8" cy="777.1" r="2.2"/><circle cx="193.3" cy="781.7" r="2.2"/><circle cx="203.6" cy="783.5" r="2.2"/><circle cx="214.6" cy="780.0" r="2.2"/><circle cx="220.4" cy="780.6" r="2.2"/><circle cx="210.0" cy="784.6" r="2.2"/><circle cx="206.5" cy="788.1" r="2.2"/><circle cx="213.4" cy="791.5" r="2.2"/><circle cx="231.9" cy="793.3" r="2.2"/><circle cx="204.2" cy="795.6" r="2.2"/><circle cx="215.8" cy="794.4" r="2.2"/><circle cx="218.6" cy="796.1" r="2.2"/><circle cx="197.9" cy="797.3" r="2.2"/><circle cx="196.1" cy="800.8" r="2.2"/><circle cx="210.0" cy="800.8" r="2.2"/><circle cx="214.6" cy="801.3" r="2.2"/><circle cx="199.0" cy="801.9" r="2.2"/><circle cx="194.4" cy="810.6" r="2.2"/><circle cx="208.8" cy="806.5" r="2.2"/><circle cx="215.8" cy="804.8" r="2.2"/><circle cx="220.4" cy="806.5" r="2.2"/><circle cx="210.0" cy="814.6" r="2.2"/><circle cx="216.9" cy="813.4" r="2.2"/><circle cx="220.4" cy="815.7" r="2.2"/><circle cx="201.3" cy="818.6" r="2.2"/><circle cx="197.3" cy="821.5" r="2.2"/><circle cx="210.0" cy="819.2" r="2.2"/><circle cx="214.6" cy="819.2" r="2.2"/><circle cx="219.2" cy="819.8" r="2.2"/><circle cx="211.1" cy="823.8" r="2.2"/><circle cx="216.9" cy="823.8" r="2.2"/><circle cx="223.3" cy="825.0" r="2.2"/><circle cx="204.2" cy="829.0" r="2.2"/><circle cx="214.6" cy="827.9" r="2.2"/><circle cx="215.8" cy="829.2" r="2.2"/><circle cx="204.2" cy="831.5" r="2.2"/><circle cx="210.6" cy="832.7" r="2.2"/><circle cx="211.1" cy="835.0" r="2.2"/><circle cx="214.6" cy="836.1" r="2.2"/><circle cx="203.1" cy="842.5" r="2.2"/><circle cx="215.2" cy="847.1" r="2.2"/><circle cx="220.9" cy="876.5" r="2.2"/></g>
<line x1="108.89999999999999" y1="779.5999999999999" x2="142.79999999999998" y2="779.5999999999999" stroke="#000" stroke-opacity="0.4" stroke-width="4.1" stroke-linecap="round"/>
<line x1="194.5" y1="808.0" x2="227.79999999999998" y2="808.0" stroke="#000" stroke-opacity="0.4" stroke-width="4.1" stroke-linecap="round"/>
<rect x="76.8" y="745.8" width="183.0" height="136.20000000000005" fill="none" stroke="#111" stroke-width="1.6"/>
<line x1="68.3" y1="769.8" x2="76.8" y2="769.8" stroke="#111" stroke-width="1.4"/>
<text x="60.3" y="774.5999999999999" font-size="13.4" text-anchor="end" fill="#111">–2</text>
<line x1="68.3" y1="800.6" x2="76.8" y2="800.6" stroke="#111" stroke-width="1.4"/>
<text x="60.3" y="805.4" font-size="13.4" text-anchor="end" fill="#111">–4</text>
<line x1="68.3" y1="831" x2="76.8" y2="831" stroke="#111" stroke-width="1.4"/>
<text x="60.3" y="835.8" font-size="13.4" text-anchor="end" fill="#111">–6</text>
<line x1="68.3" y1="861.7" x2="76.8" y2="861.7" stroke="#111" stroke-width="1.4"/>
<text x="60.3" y="866.5" font-size="13.4" text-anchor="end" fill="#111">–8</text>
<text x="87.2" y="726.3" font-size="13" fill="#111" textLength="117.7" lengthAdjust="spacingAndGlyphs">miR-326 3.6-fold up</text>
<text x="87.2" y="743.2" font-size="13" fill="#111"><tspan font-style="italic">P</tspan> &lt; 10<tspan font-size="7.4" dy="-4">-11</tspan></text>
<line x1="126.3" y1="882" x2="126.3" y2="890.5" stroke="#111" stroke-width="1.4"/>
<line x1="211.1" y1="882" x2="211.1" y2="890.5" stroke="#111" stroke-width="1.4"/>
<text transform="translate(122.3,898.6) rotate(-90)" font-size="13.4" text-anchor="end" fill="#111">CTCL</text>
<text transform="translate(136.5,898.6) rotate(-90)" font-size="13.4" text-anchor="end" fill="#111">(n=41)</text>
<text transform="translate(207.1,898.6) rotate(-90)" font-size="13.4" text-anchor="end" fill="#111">Benign</text>
<text transform="translate(221.29999999999998,898.6) rotate(-90)" font-size="13.4" text-anchor="end" fill="#111">(n=49)</text>
<g fill="#439b42"><circle cx="370.8" cy="776.0" r="2.95"/><circle cx="387.5" cy="781.5" r="2.95"/><circle cx="392.1" cy="782.1" r="2.95"/><circle cx="384.0" cy="787.3" r="2.95"/><circle cx="365.6" cy="792.5" r="2.95"/><circle cx="377.7" cy="791.9" r="2.95"/><circle cx="377.7" cy="795.4" r="2.95"/><circle cx="390.9" cy="793.6" r="2.95"/><circle cx="385.8" cy="797.5" r="2.95"/><circle cx="370.8" cy="800.2" r="2.95"/><circle cx="399.0" cy="801.7" r="2.95"/><circle cx="386.9" cy="802.9" r="2.95"/><circle cx="381.1" cy="804.6" r="2.95"/><circle cx="375.4" cy="808.1" r="2.95"/><circle cx="380.0" cy="808.1" r="2.95"/><circle cx="384.6" cy="809.2" r="2.95"/><circle cx="389.8" cy="810.9" r="2.95"/><circle cx="393.8" cy="812.7" r="2.95"/><circle cx="374.8" cy="812.7" r="2.95"/><circle cx="369.6" cy="815.0" r="2.95"/><circle cx="364.4" cy="818.4" r="2.95"/><circle cx="366.1" cy="821.3" r="2.95"/><circle cx="384.6" cy="816.7" r="2.95"/><circle cx="379.4" cy="821.9" r="2.95"/><circle cx="387.5" cy="823.6" r="2.95"/><circle cx="391.0" cy="826.5" r="2.95"/><circle cx="384.6" cy="828.2" r="2.95"/><circle cx="365.0" cy="821.2" r="2.95"/><circle cx="386.9" cy="831.5" r="2.95"/><circle cx="381.1" cy="834.4" r="2.95"/><circle cx="384.6" cy="835.0" r="2.95"/><circle cx="389.8" cy="836.1" r="2.95"/><circle cx="382.3" cy="837.3" r="2.95"/><circle cx="382.9" cy="843.6" r="2.95"/><circle cx="378.8" cy="846.0" r="2.95"/><circle cx="383.4" cy="846.0" r="2.95"/><circle cx="365.6" cy="851.1" r="2.95"/><circle cx="388.6" cy="863.8" r="2.95"/><circle cx="389.8" cy="876.5" r="2.95"/></g>
<g fill="#6cc462"><circle cx="370.8" cy="776.0" r="2.2"/><circle cx="387.5" cy="781.5" r="2.2"/><circle cx="392.1" cy="782.1" r="2.2"/><circle cx="384.0" cy="787.3" r="2.2"/><circle cx="365.6" cy="792.5" r="2.2"/><circle cx="377.7" cy="791.9" r="2.2"/><circle cx="377.7" cy="795.4" r="2.2"/><circle cx="390.9" cy="793.6" r="2.2"/><circle cx="385.8" cy="797.5" r="2.2"/><circle cx="370.8" cy="800.2" r="2.2"/><circle cx="399.0" cy="801.7" r="2.2"/><circle cx="386.9" cy="802.9" r="2.2"/><circle cx="381.1" cy="804.6" r="2.2"/><circle cx="375.4" cy="808.1" r="2.2"/><circle cx="380.0" cy="808.1" r="2.2"/><circle cx="384.6" cy="809.2" r="2.2"/><circle cx="389.8" cy="810.9" r="2.2"/><circle cx="393.8" cy="812.7" r="2.2"/><circle cx="374.8" cy="812.7" r="2.2"/><circle cx="369.6" cy="815.0" r="2.2"/><circle cx="364.4" cy="818.4" r="2.2"/><circle cx="366.1" cy="821.3" r="2.2"/><circle cx="384.6" cy="816.7" r="2.2"/><circle cx="379.4" cy="821.9" r="2.2"/><circle cx="387.5" cy="823.6" r="2.2"/><circle cx="391.0" cy="826.5" r="2.2"/><circle cx="384.6" cy="828.2" r="2.2"/><circle cx="365.0" cy="821.2" r="2.2"/><circle cx="386.9" cy="831.5" r="2.2"/><circle cx="381.1" cy="834.4" r="2.2"/><circle cx="384.6" cy="835.0" r="2.2"/><circle cx="389.8" cy="836.1" r="2.2"/><circle cx="382.3" cy="837.3" r="2.2"/><circle cx="382.9" cy="843.6" r="2.2"/><circle cx="378.8" cy="846.0" r="2.2"/><circle cx="383.4" cy="846.0" r="2.2"/><circle cx="365.6" cy="851.1" r="2.2"/><circle cx="388.6" cy="863.8" r="2.2"/><circle cx="389.8" cy="876.5" r="2.2"/></g>
<g fill="#d26c14"><circle cx="453.8" cy="750.5" r="2.95"/><circle cx="488.4" cy="753.7" r="2.95"/><circle cx="460.8" cy="756.0" r="2.95"/><circle cx="467.1" cy="757.1" r="2.95"/><circle cx="474.6" cy="758.8" r="2.95"/><circle cx="458.5" cy="762.9" r="2.95"/><circle cx="464.2" cy="761.1" r="2.95"/><circle cx="470.0" cy="762.3" r="2.95"/><circle cx="479.2" cy="765.8" r="2.95"/><circle cx="453.8" cy="767.5" r="2.95"/><circle cx="459.6" cy="766.9" r="2.95"/><circle cx="465.4" cy="766.3" r="2.95"/><circle cx="471.1" cy="767.5" r="2.95"/><circle cx="482.7" cy="772.1" r="2.95"/><circle cx="450.4" cy="772.1" r="2.95"/><circle cx="456.1" cy="771.5" r="2.95"/><circle cx="461.9" cy="771.0" r="2.95"/><circle cx="467.7" cy="771.0" r="2.95"/><circle cx="473.4" cy="771.5" r="2.95"/><circle cx="478.1" cy="772.7" r="2.95"/><circle cx="449.8" cy="781.9" r="2.95"/><circle cx="467.7" cy="783.1" r="2.95"/><circle cx="473.4" cy="781.9" r="2.95"/><circle cx="479.8" cy="784.2" r="2.95"/><circle cx="464.8" cy="787.1" r="2.95"/><circle cx="470.6" cy="787.1" r="2.95"/><circle cx="453.8" cy="788.8" r="2.95"/><circle cx="460.2" cy="791.1" r="2.95"/><circle cx="466.5" cy="791.1" r="2.95"/><circle cx="472.3" cy="791.1" r="2.95"/><circle cx="476.9" cy="793.4" r="2.95"/><circle cx="453.8" cy="794.6" r="2.95"/><circle cx="458.5" cy="799.5" r="2.95"/><circle cx="454.4" cy="795.6" r="2.95"/><circle cx="472.1" cy="808.6" r="2.95"/><circle cx="466.8" cy="813.5" r="2.95"/><circle cx="465.1" cy="821.3" r="2.95"/><circle cx="467.7" cy="838.3" r="2.95"/><circle cx="460.1" cy="755.3" r="2.95"/><circle cx="463.8" cy="756.8" r="2.95"/><circle cx="465.9" cy="755.9" r="2.95"/><circle cx="459.0" cy="758.8" r="2.95"/><circle cx="463.0" cy="758.4" r="2.95"/><circle cx="466.7" cy="760.1" r="2.95"/><circle cx="468.9" cy="758.5" r="2.95"/><circle cx="453.6" cy="764.0" r="2.95"/><circle cx="457.1" cy="764.1" r="2.95"/><circle cx="461.6" cy="763.5" r="2.95"/><circle cx="466.3" cy="761.8" r="2.95"/><circle cx="472.4" cy="763.3" r="2.95"/><circle cx="474.9" cy="762.4" r="2.95"/><circle cx="454.1" cy="767.6" r="2.95"/><circle cx="456.4" cy="766.3" r="2.95"/><circle cx="462.0" cy="765.7" r="2.95"/><circle cx="465.6" cy="767.3" r="2.95"/><circle cx="469.3" cy="766.1" r="2.95"/><circle cx="472.7" cy="767.2" r="2.95"/><circle cx="476.3" cy="767.1" r="2.95"/><circle cx="448.9" cy="770.1" r="2.95"/><circle cx="455.6" cy="770.9" r="2.95"/><circle cx="458.3" cy="769.0" r="2.95"/><circle cx="463.3" cy="770.5" r="2.95"/><circle cx="467.1" cy="769.8" r="2.95"/><circle cx="472.6" cy="770.6" r="2.95"/><circle cx="477.0" cy="769.1" r="2.95"/><circle cx="480.5" cy="770.2" r="2.95"/><circle cx="453.8" cy="772.5" r="2.95"/><circle cx="457.0" cy="772.4" r="2.95"/><circle cx="462.3" cy="772.8" r="2.95"/><circle cx="467.7" cy="773.2" r="2.95"/><circle cx="471.7" cy="773.6" r="2.95"/><circle cx="474.4" cy="773.1" r="2.95"/><circle cx="480.6" cy="774.2" r="2.95"/><circle cx="465.1" cy="780.8" r="2.95"/><circle cx="470.9" cy="782.5" r="2.95"/><circle cx="476.2" cy="781.4" r="2.95"/><circle cx="480.7" cy="782.6" r="2.95"/><circle cx="466.4" cy="785.3" r="2.95"/><circle cx="470.1" cy="784.1" r="2.95"/><circle cx="474.0" cy="785.2" r="2.95"/><circle cx="478.2" cy="783.8" r="2.95"/><circle cx="464.2" cy="788.0" r="2.95"/><circle cx="470.4" cy="788.6" r="2.95"/><circle cx="473.4" cy="788.2" r="2.95"/><circle cx="479.3" cy="787.5" r="2.95"/><circle cx="472.2" cy="791.8" r="2.95"/><circle cx="474.8" cy="793.1" r="2.95"/><circle cx="466.7" cy="777.8" r="2.95"/><circle cx="472.9" cy="777.7" r="2.95"/><circle cx="476.9" cy="777.3" r="2.95"/></g>
<g fill="#f48e2a"><circle cx="453.8" cy="750.5" r="2.2"/><circle cx="488.4" cy="753.7" r="2.2"/><circle cx="460.8" cy="756.0" r="2.2"/><circle cx="467.1" cy="757.1" r="2.2"/><circle cx="474.6" cy="758.8" r="2.2"/><circle cx="458.5" cy="762.9" r="2.2"/><circle cx="464.2" cy="761.1" r="2.2"/><circle cx="470.0" cy="762.3" r="2.2"/><circle cx="479.2" cy="765.8" r="2.2"/><circle cx="453.8" cy="767.5" r="2.2"/><circle cx="459.6" cy="766.9" r="2.2"/><circle cx="465.4" cy="766.3" r="2.2"/><circle cx="471.1" cy="767.5" r="2.2"/><circle cx="482.7" cy="772.1" r="2.2"/><circle cx="450.4" cy="772.1" r="2.2"/><circle cx="456.1" cy="771.5" r="2.2"/><circle cx="461.9" cy="771.0" r="2.2"/><circle cx="467.7" cy="771.0" r="2.2"/><circle cx="473.4" cy="771.5" r="2.2"/><circle cx="478.1" cy="772.7" r="2.2"/><circle cx="449.8" cy="781.9" r="2.2"/><circle cx="467.7" cy="783.1" r="2.2"/><circle cx="473.4" cy="781.9" r="2.2"/><circle cx="479.8" cy="784.2" r="2.2"/><circle cx="464.8" cy="787.1" r="2.2"/><circle cx="470.6" cy="787.1" r="2.2"/><circle cx="453.8" cy="788.8" r="2.2"/><circle cx="460.2" cy="791.1" r="2.2"/><circle cx="466.5" cy="791.1" r="2.2"/><circle cx="472.3" cy="791.1" r="2.2"/><circle cx="476.9" cy="793.4" r="2.2"/><circle cx="453.8" cy="794.6" r="2.2"/><circle cx="458.5" cy="799.5" r="2.2"/><circle cx="454.4" cy="795.6" r="2.2"/><circle cx="472.1" cy="808.6" r="2.2"/><circle cx="466.8" cy="813.5" r="2.2"/><circle cx="465.1" cy="821.3" r="2.2"/><circle cx="467.7" cy="838.3" r="2.2"/><circle cx="460.1" cy="755.3" r="2.2"/><circle cx="463.8" cy="756.8" r="2.2"/><circle cx="465.9" cy="755.9" r="2.2"/><circle cx="459.0" cy="758.8" r="2.2"/><circle cx="463.0" cy="758.4" r="2.2"/><circle cx="466.7" cy="760.1" r="2.2"/><circle cx="468.9" cy="758.5" r="2.2"/><circle cx="453.6" cy="764.0" r="2.2"/><circle cx="457.1" cy="764.1" r="2.2"/><circle cx="461.6" cy="763.5" r="2.2"/><circle cx="466.3" cy="761.8" r="2.2"/><circle cx="472.4" cy="763.3" r="2.2"/><circle cx="474.9" cy="762.4" r="2.2"/><circle cx="454.1" cy="767.6" r="2.2"/><circle cx="456.4" cy="766.3" r="2.2"/><circle cx="462.0" cy="765.7" r="2.2"/><circle cx="465.6" cy="767.3" r="2.2"/><circle cx="469.3" cy="766.1" r="2.2"/><circle cx="472.7" cy="767.2" r="2.2"/><circle cx="476.3" cy="767.1" r="2.2"/><circle cx="448.9" cy="770.1" r="2.2"/><circle cx="455.6" cy="770.9" r="2.2"/><circle cx="458.3" cy="769.0" r="2.2"/><circle cx="463.3" cy="770.5" r="2.2"/><circle cx="467.1" cy="769.8" r="2.2"/><circle cx="472.6" cy="770.6" r="2.2"/><circle cx="477.0" cy="769.1" r="2.2"/><circle cx="480.5" cy="770.2" r="2.2"/><circle cx="453.8" cy="772.5" r="2.2"/><circle cx="457.0" cy="772.4" r="2.2"/><circle cx="462.3" cy="772.8" r="2.2"/><circle cx="467.7" cy="773.2" r="2.2"/><circle cx="471.7" cy="773.6" r="2.2"/><circle cx="474.4" cy="773.1" r="2.2"/><circle cx="480.6" cy="774.2" r="2.2"/><circle cx="465.1" cy="780.8" r="2.2"/><circle cx="470.9" cy="782.5" r="2.2"/><circle cx="476.2" cy="781.4" r="2.2"/><circle cx="480.7" cy="782.6" r="2.2"/><circle cx="466.4" cy="785.3" r="2.2"/><circle cx="470.1" cy="784.1" r="2.2"/><circle cx="474.0" cy="785.2" r="2.2"/><circle cx="478.2" cy="783.8" r="2.2"/><circle cx="464.2" cy="788.0" r="2.2"/><circle cx="470.4" cy="788.6" r="2.2"/><circle cx="473.4" cy="788.2" r="2.2"/><circle cx="479.3" cy="787.5" r="2.2"/><circle cx="472.2" cy="791.8" r="2.2"/><circle cx="474.8" cy="793.1" r="2.2"/><circle cx="466.7" cy="777.8" r="2.2"/><circle cx="472.9" cy="777.7" r="2.2"/><circle cx="476.9" cy="777.3" r="2.2"/></g>
<line x1="365.6" y1="817.4" x2="398.9" y2="817.4" stroke="#000" stroke-opacity="0.4" stroke-width="4.1" stroke-linecap="round"/>
<line x1="451.0" y1="778.6999999999999" x2="484.9" y2="778.6999999999999" stroke="#000" stroke-opacity="0.4" stroke-width="4.1" stroke-linecap="round"/>
<rect x="333.3" y="745.8" width="181.49999999999994" height="135.70000000000005" fill="none" stroke="#111" stroke-width="1.6"/>
<line x1="324.8" y1="758.5" x2="333.3" y2="758.5" stroke="#111" stroke-width="1.4"/>
<text x="316.8" y="763.3" font-size="13.4" text-anchor="end" fill="#111">6</text>
<line x1="324.8" y1="787.7" x2="333.3" y2="787.7" stroke="#111" stroke-width="1.4"/>
<text x="316.8" y="792.5" font-size="13.4" text-anchor="end" fill="#111">4</text>
<line x1="324.8" y1="816.9" x2="333.3" y2="816.9" stroke="#111" stroke-width="1.4"/>
<text x="316.8" y="821.6999999999999" font-size="13.4" text-anchor="end" fill="#111">2</text>
<line x1="324.8" y1="846" x2="333.3" y2="846" stroke="#111" stroke-width="1.4"/>
<text x="316.8" y="850.8" font-size="13.4" text-anchor="end" fill="#111">0</text>
<line x1="324.8" y1="875.2" x2="333.3" y2="875.2" stroke="#111" stroke-width="1.4"/>
<text x="316.8" y="880.0" font-size="13.4" text-anchor="end" fill="#111">–2</text>
<text x="346.4" y="725.7" font-size="13" fill="#111" textLength="135.1" lengthAdjust="spacingAndGlyphs">miR-203 6.6-fold down</text>
<text x="346.4" y="742.2" font-size="13" fill="#111"><tspan font-style="italic">P</tspan> &lt; 10<tspan font-size="7.4" dy="-4">-14</tspan></text>
<line x1="382.6" y1="881.5" x2="382.6" y2="890.0" stroke="#111" stroke-width="1.4"/>
<line x1="468" y1="881.5" x2="468" y2="890.0" stroke="#111" stroke-width="1.4"/>
<text transform="translate(378.6,898.1) rotate(-90)" font-size="13.4" text-anchor="end" fill="#111">CTCL</text>
<text transform="translate(392.8,898.1) rotate(-90)" font-size="13.4" text-anchor="end" fill="#111">(n=43)</text>
<text transform="translate(464,898.1) rotate(-90)" font-size="13.4" text-anchor="end" fill="#111">Benign</text>
<text transform="translate(478.2,898.1) rotate(-90)" font-size="13.4" text-anchor="end" fill="#111">(n=61)</text>
<g fill="#439b42"><circle cx="116.3" cy="999.4" r="2.95"/><circle cx="118.6" cy="1010.0" r="2.95"/><circle cx="114.6" cy="1016.3" r="2.95"/><circle cx="130.2" cy="1015.8" r="2.95"/><circle cx="142.3" cy="1018.6" r="2.95"/><circle cx="121.0" cy="1021.0" r="2.95"/><circle cx="125.0" cy="1022.1" r="2.95"/><circle cx="130.8" cy="1020.4" r="2.95"/><circle cx="134.2" cy="1023.3" r="2.95"/><circle cx="137.1" cy="1026.1" r="2.95"/><circle cx="129.6" cy="1025.0" r="2.95"/><circle cx="137.7" cy="1029.0" r="2.95"/><circle cx="128.4" cy="1029.0" r="2.95"/><circle cx="131.9" cy="1030.2" r="2.95"/><circle cx="126.1" cy="1034.2" r="2.95"/><circle cx="134.2" cy="1035.4" r="2.95"/><circle cx="131.9" cy="1037.7" r="2.95"/><circle cx="118.6" cy="1040.0" r="2.95"/><circle cx="108.8" cy="1044.6" r="2.95"/><circle cx="112.9" cy="1045.7" r="2.95"/><circle cx="125.0" cy="1045.7" r="2.95"/><circle cx="108.8" cy="1049.4" r="2.95"/><circle cx="128.4" cy="1049.2" r="2.95"/><circle cx="133.1" cy="1051.5" r="2.95"/><circle cx="135.4" cy="1053.2" r="2.95"/><circle cx="121.5" cy="1057.7" r="2.95"/><circle cx="130.8" cy="1060.0" r="2.95"/><circle cx="113.5" cy="1064.8" r="2.95"/><circle cx="126.1" cy="1064.4" r="2.95"/><circle cx="131.9" cy="1064.0" r="2.95"/><circle cx="133.1" cy="1066.9" r="2.95"/><circle cx="106.5" cy="1075.6" r="2.95"/><circle cx="124.4" cy="1073.3" r="2.95"/><circle cx="122.7" cy="1076.4" r="2.95"/><circle cx="134.2" cy="1074.8" r="2.95"/><circle cx="126.7" cy="1085.9" r="2.95"/><circle cx="109.4" cy="1103.2" r="2.95"/><circle cx="122.7" cy="1103.6" r="2.95"/><circle cx="118.6" cy="1107.9" r="2.95"/></g>
<g fill="#6cc462"><circle cx="116.3" cy="999.4" r="2.2"/><circle cx="118.6" cy="1010.0" r="2.2"/><circle cx="114.6" cy="1016.3" r="2.2"/><circle cx="130.2" cy="1015.8" r="2.2"/><circle cx="142.3" cy="1018.6" r="2.2"/><circle cx="121.0" cy="1021.0" r="2.2"/><circle cx="125.0" cy="1022.1" r="2.2"/><circle cx="130.8" cy="1020.4" r="2.2"/><circle cx="134.2" cy="1023.3" r="2.2"/><circle cx="137.1" cy="1026.1" r="2.2"/><circle cx="129.6" cy="1025.0" r="2.2"/><circle cx="137.7" cy="1029.0" r="2.2"/><circle cx="128.4" cy="1029.0" r="2.2"/><circle cx="131.9" cy="1030.2" r="2.2"/><circle cx="126.1" cy="1034.2" r="2.2"/><circle cx="134.2" cy="1035.4" r="2.2"/><circle cx="131.9" cy="1037.7" r="2.2"/><circle cx="118.6" cy="1040.0" r="2.2"/><circle cx="108.8" cy="1044.6" r="2.2"/><circle cx="112.9" cy="1045.7" r="2.2"/><circle cx="125.0" cy="1045.7" r="2.2"/><circle cx="108.8" cy="1049.4" r="2.2"/><circle cx="128.4" cy="1049.2" r="2.2"/><circle cx="133.1" cy="1051.5" r="2.2"/><circle cx="135.4" cy="1053.2" r="2.2"/><circle cx="121.5" cy="1057.7" r="2.2"/><circle cx="130.8" cy="1060.0" r="2.2"/><circle cx="113.5" cy="1064.8" r="2.2"/><circle cx="126.1" cy="1064.4" r="2.2"/><circle cx="131.9" cy="1064.0" r="2.2"/><circle cx="133.1" cy="1066.9" r="2.2"/><circle cx="106.5" cy="1075.6" r="2.2"/><circle cx="124.4" cy="1073.3" r="2.2"/><circle cx="122.7" cy="1076.4" r="2.2"/><circle cx="134.2" cy="1074.8" r="2.2"/><circle cx="126.7" cy="1085.9" r="2.2"/><circle cx="109.4" cy="1103.2" r="2.2"/><circle cx="122.7" cy="1103.6" r="2.2"/><circle cx="118.6" cy="1107.9" r="2.2"/></g>
<g fill="#d26c14"><circle cx="208.3" cy="1011.7" r="2.95"/><circle cx="197.1" cy="1042.1" r="2.95"/><circle cx="210.2" cy="1039.6" r="2.95"/><circle cx="210.2" cy="1042.5" r="2.95"/><circle cx="204.6" cy="1044.4" r="2.95"/><circle cx="219.2" cy="1044.2" r="2.95"/><circle cx="225.6" cy="1042.5" r="2.95"/><circle cx="193.8" cy="1047.9" r="2.95"/><circle cx="215.8" cy="1049.1" r="2.95"/><circle cx="204.8" cy="1052.1" r="2.95"/><circle cx="212.9" cy="1055.7" r="2.95"/><circle cx="220.9" cy="1055.7" r="2.95"/><circle cx="203.6" cy="1061.7" r="2.95"/><circle cx="208.8" cy="1062.0" r="2.95"/><circle cx="214.6" cy="1061.0" r="2.95"/><circle cx="218.3" cy="1062.9" r="2.95"/><circle cx="193.3" cy="1064.5" r="2.95"/><circle cx="213.4" cy="1056.7" r="2.95"/><circle cx="214.6" cy="1065.4" r="2.95"/><circle cx="216.9" cy="1071.7" r="2.95"/><circle cx="197.3" cy="1074.0" r="2.95"/><circle cx="203.1" cy="1075.2" r="2.95"/><circle cx="208.3" cy="1076.3" r="2.95"/><circle cx="213.4" cy="1077.5" r="2.95"/><circle cx="219.2" cy="1075.8" r="2.95"/><circle cx="204.8" cy="1081.5" r="2.95"/><circle cx="210.6" cy="1082.1" r="2.95"/><circle cx="215.8" cy="1082.7" r="2.95"/><circle cx="213.4" cy="1086.7" r="2.95"/><circle cx="231.9" cy="1088.4" r="2.95"/><circle cx="196.1" cy="1089.6" r="2.95"/><circle cx="210.0" cy="1090.8" r="2.95"/><circle cx="221.5" cy="1091.3" r="2.95"/><circle cx="219.2" cy="1094.8" r="2.95"/><circle cx="204.2" cy="1096.0" r="2.95"/><circle cx="208.8" cy="1095.4" r="2.95"/><circle cx="197.9" cy="1096.0" r="2.95"/><circle cx="214.6" cy="1097.7" r="2.95"/><circle cx="197.3" cy="1100.0" r="2.95"/><circle cx="210.0" cy="1102.3" r="2.95"/><circle cx="220.4" cy="1101.7" r="2.95"/><circle cx="203.1" cy="1106.9" r="2.95"/><circle cx="223.3" cy="1106.9" r="2.95"/><circle cx="208.3" cy="1110.4" r="2.95"/><circle cx="216.9" cy="1109.8" r="2.95"/><circle cx="219.2" cy="1108.1" r="2.95"/><circle cx="214.0" cy="1124.2" r="2.95"/><circle cx="210.0" cy="1084.4" r="2.95"/><circle cx="214.6" cy="1085.5" r="2.95"/><circle cx="207.7" cy="1092.4" r="2.95"/><circle cx="212.3" cy="1097.0" r="2.95"/></g>
<g fill="#f48e2a"><circle cx="208.3" cy="1011.7" r="2.2"/><circle cx="197.1" cy="1042.1" r="2.2"/><circle cx="210.2" cy="1039.6" r="2.2"/><circle cx="210.2" cy="1042.5" r="2.2"/><circle cx="204.6" cy="1044.4" r="2.2"/><circle cx="219.2" cy="1044.2" r="2.2"/><circle cx="225.6" cy="1042.5" r="2.2"/><circle cx="193.8" cy="1047.9" r="2.2"/><circle cx="215.8" cy="1049.1" r="2.2"/><circle cx="204.8" cy="1052.1" r="2.2"/><circle cx="212.9" cy="1055.7" r="2.2"/><circle cx="220.9" cy="1055.7" r="2.2"/><circle cx="203.6" cy="1061.7" r="2.2"/><circle cx="208.8" cy="1062.0" r="2.2"/><circle cx="214.6" cy="1061.0" r="2.2"/><circle cx="218.3" cy="1062.9" r="2.2"/><circle cx="193.3" cy="1064.5" r="2.2"/><circle cx="213.4" cy="1056.7" r="2.2"/><circle cx="214.6" cy="1065.4" r="2.2"/><circle cx="216.9" cy="1071.7" r="2.2"/><circle cx="197.3" cy="1074.0" r="2.2"/><circle cx="203.1" cy="1075.2" r="2.2"/><circle cx="208.3" cy="1076.3" r="2.2"/><circle cx="213.4" cy="1077.5" r="2.2"/><circle cx="219.2" cy="1075.8" r="2.2"/><circle cx="204.8" cy="1081.5" r="2.2"/><circle cx="210.6" cy="1082.1" r="2.2"/><circle cx="215.8" cy="1082.7" r="2.2"/><circle cx="213.4" cy="1086.7" r="2.2"/><circle cx="231.9" cy="1088.4" r="2.2"/><circle cx="196.1" cy="1089.6" r="2.2"/><circle cx="210.0" cy="1090.8" r="2.2"/><circle cx="221.5" cy="1091.3" r="2.2"/><circle cx="219.2" cy="1094.8" r="2.2"/><circle cx="204.2" cy="1096.0" r="2.2"/><circle cx="208.8" cy="1095.4" r="2.2"/><circle cx="197.9" cy="1096.0" r="2.2"/><circle cx="214.6" cy="1097.7" r="2.2"/><circle cx="197.3" cy="1100.0" r="2.2"/><circle cx="210.0" cy="1102.3" r="2.2"/><circle cx="220.4" cy="1101.7" r="2.2"/><circle cx="203.1" cy="1106.9" r="2.2"/><circle cx="223.3" cy="1106.9" r="2.2"/><circle cx="208.3" cy="1110.4" r="2.2"/><circle cx="216.9" cy="1109.8" r="2.2"/><circle cx="219.2" cy="1108.1" r="2.2"/><circle cx="214.0" cy="1124.2" r="2.2"/><circle cx="210.0" cy="1084.4" r="2.2"/><circle cx="214.6" cy="1085.5" r="2.2"/><circle cx="207.7" cy="1092.4" r="2.2"/><circle cx="212.3" cy="1097.0" r="2.2"/></g>
<line x1="108.89999999999999" y1="1046.0" x2="142.79999999999998" y2="1046.0" stroke="#000" stroke-opacity="0.4" stroke-width="4.1" stroke-linecap="round"/>
<line x1="194.5" y1="1077.2" x2="227.79999999999998" y2="1077.2" stroke="#000" stroke-opacity="0.4" stroke-width="4.1" stroke-linecap="round"/>
<rect x="76.8" y="994.6" width="183.5" height="135.30000000000007" fill="none" stroke="#111" stroke-width="1.6"/>
<line x1="68.3" y1="994.6" x2="76.8" y2="994.6" stroke="#111" stroke-width="1.4"/>
<text x="60.3" y="999.4" font-size="13.4" text-anchor="end" fill="#111">4</text>
<line x1="68.3" y1="1012.6" x2="76.8" y2="1012.6" stroke="#111" stroke-width="1.4"/>
<text x="60.3" y="1017.4" font-size="13.4" text-anchor="end" fill="#111">3</text>
<line x1="68.3" y1="1030.9" x2="76.8" y2="1030.9" stroke="#111" stroke-width="1.4"/>
<text x="60.3" y="1035.7" font-size="13.4" text-anchor="end" fill="#111">2</text>
<line x1="68.3" y1="1049.1" x2="76.8" y2="1049.1" stroke="#111" stroke-width="1.4"/>
<text x="60.3" y="1053.8999999999999" font-size="13.4" text-anchor="end" fill="#111">1</text>
<line x1="68.3" y1="1067.5" x2="76.8" y2="1067.5" stroke="#111" stroke-width="1.4"/>
<text x="60.3" y="1072.3" font-size="13.4" text-anchor="end" fill="#111">0</text>
<line x1="68.3" y1="1086.6" x2="76.8" y2="1086.6" stroke="#111" stroke-width="1.4"/>
<text x="60.3" y="1091.3999999999999" font-size="13.4" text-anchor="end" fill="#111">–1</text>
<line x1="68.3" y1="1105.2" x2="76.8" y2="1105.2" stroke="#111" stroke-width="1.4"/>
<text x="60.3" y="1110.0" font-size="13.4" text-anchor="end" fill="#111">–2</text>
<line x1="68.3" y1="1123.7" x2="76.8" y2="1123.7" stroke="#111" stroke-width="1.4"/>
<text x="60.3" y="1128.5" font-size="13.4" text-anchor="end" fill="#111">–3</text>
<text x="87.2" y="972" font-size="13" fill="#111" textLength="125.2" lengthAdjust="spacingAndGlyphs">miR-663b 3.2-fold up</text>
<text x="87.2" y="988.9000000000001" font-size="13" fill="#111"><tspan font-style="italic">P</tspan> &lt; 10<tspan font-size="7.4" dy="-4">-7</tspan></text>
<line x1="125.8" y1="1129.9" x2="125.8" y2="1138.4" stroke="#111" stroke-width="1.4"/>
<line x1="211.5" y1="1129.9" x2="211.5" y2="1138.4" stroke="#111" stroke-width="1.4"/>
<text transform="translate(121.8,1146.5) rotate(-90)" font-size="13.4" text-anchor="end" fill="#111">CTCL</text>
<text transform="translate(136.0,1146.5) rotate(-90)" font-size="13.4" text-anchor="end" fill="#111">(n=45)</text>
<text transform="translate(207.5,1146.5) rotate(-90)" font-size="13.4" text-anchor="end" fill="#111">Benign</text>
<text transform="translate(221.7,1146.5) rotate(-90)" font-size="13.4" text-anchor="end" fill="#111">(n=54)</text>
<g fill="#439b42"><circle cx="381.9" cy="1023.7" r="2.95"/><circle cx="386.5" cy="1023.1" r="2.95"/><circle cx="390.6" cy="1024.2" r="2.95"/><circle cx="384.2" cy="1026.5" r="2.95"/><circle cx="388.8" cy="1027.7" r="2.95"/><circle cx="363.5" cy="1031.1" r="2.95"/><circle cx="368.6" cy="1031.7" r="2.95"/><circle cx="373.3" cy="1030.0" r="2.95"/><circle cx="377.3" cy="1032.3" r="2.95"/><circle cx="385.4" cy="1031.1" r="2.95"/><circle cx="390.6" cy="1031.1" r="2.95"/><circle cx="397.5" cy="1034.0" r="2.95"/><circle cx="368.1" cy="1036.9" r="2.95"/><circle cx="372.7" cy="1036.9" r="2.95"/><circle cx="379.6" cy="1037.5" r="2.95"/><circle cx="384.2" cy="1035.8" r="2.95"/><circle cx="388.8" cy="1037.5" r="2.95"/><circle cx="373.8" cy="1039.8" r="2.95"/><circle cx="381.9" cy="1039.8" r="2.95"/><circle cx="386.5" cy="1040.4" r="2.95"/><circle cx="364.0" cy="1045.0" r="2.95"/><circle cx="378.4" cy="1044.4" r="2.95"/><circle cx="387.7" cy="1045.0" r="2.95"/><circle cx="361.1" cy="1048.4" r="2.95"/><circle cx="364.6" cy="1051.9" r="2.95"/><circle cx="380.8" cy="1048.4" r="2.95"/><circle cx="387.7" cy="1048.4" r="2.95"/><circle cx="381.9" cy="1051.9" r="2.95"/><circle cx="383.1" cy="1054.8" r="2.95"/><circle cx="378.4" cy="1059.4" r="2.95"/><circle cx="380.8" cy="1061.7" r="2.95"/><circle cx="383.6" cy="1064.0" r="2.95"/><circle cx="388.3" cy="1067.2" r="2.95"/><circle cx="386.8" cy="1073.6" r="2.95"/><circle cx="373.6" cy="1095.5" r="2.95"/><circle cx="371.0" cy="1128.6" r="2.95"/><circle cx="393.5" cy="1033.0" r="2.95"/><circle cx="392.0" cy="1036.5" r="2.95"/><circle cx="370.0" cy="1044.0" r="2.95"/><circle cx="374.0" cy="1045.5" r="2.95"/><circle cx="383.0" cy="1046.0" r="2.95"/><circle cx="390.0" cy="1045.0" r="2.95"/><circle cx="376.0" cy="1042.0" r="2.95"/><circle cx="385.0" cy="1050.0" r="2.95"/><circle cx="390.0" cy="1050.5" r="2.95"/><circle cx="384.0" cy="1053.0" r="2.95"/><circle cx="379.0" cy="1052.0" r="2.95"/><circle cx="370.4" cy="1034.6" r="2.95"/><circle cx="373.8" cy="1033.5" r="2.95"/><circle cx="381.5" cy="1030.0" r="2.95"/><circle cx="377.0" cy="1028.5" r="2.95"/></g>
<g fill="#6cc462"><circle cx="381.9" cy="1023.7" r="2.2"/><circle cx="386.5" cy="1023.1" r="2.2"/><circle cx="390.6" cy="1024.2" r="2.2"/><circle cx="384.2" cy="1026.5" r="2.2"/><circle cx="388.8" cy="1027.7" r="2.2"/><circle cx="363.5" cy="1031.1" r="2.2"/><circle cx="368.6" cy="1031.7" r="2.2"/><circle cx="373.3" cy="1030.0" r="2.2"/><circle cx="377.3" cy="1032.3" r="2.2"/><circle cx="385.4" cy="1031.1" r="2.2"/><circle cx="390.6" cy="1031.1" r="2.2"/><circle cx="397.5" cy="1034.0" r="2.2"/><circle cx="368.1" cy="1036.9" r="2.2"/><circle cx="372.7" cy="1036.9" r="2.2"/><circle cx="379.6" cy="1037.5" r="2.2"/><circle cx="384.2" cy="1035.8" r="2.2"/><circle cx="388.8" cy="1037.5" r="2.2"/><circle cx="373.8" cy="1039.8" r="2.2"/><circle cx="381.9" cy="1039.8" r="2.2"/><circle cx="386.5" cy="1040.4" r="2.2"/><circle cx="364.0" cy="1045.0" r="2.2"/><circle cx="378.4" cy="1044.4" r="2.2"/><circle cx="387.7" cy="1045.0" r="2.2"/><circle cx="361.1" cy="1048.4" r="2.2"/><circle cx="364.6" cy="1051.9" r="2.2"/><circle cx="380.8" cy="1048.4" r="2.2"/><circle cx="387.7" cy="1048.4" r="2.2"/><circle cx="381.9" cy="1051.9" r="2.2"/><circle cx="383.1" cy="1054.8" r="2.2"/><circle cx="378.4" cy="1059.4" r="2.2"/><circle cx="380.8" cy="1061.7" r="2.2"/><circle cx="383.6" cy="1064.0" r="2.2"/><circle cx="388.3" cy="1067.2" r="2.2"/><circle cx="386.8" cy="1073.6" r="2.2"/><circle cx="373.6" cy="1095.5" r="2.2"/><circle cx="371.0" cy="1128.6" r="2.2"/><circle cx="393.5" cy="1033.0" r="2.2"/><circle cx="392.0" cy="1036.5" r="2.2"/><circle cx="370.0" cy="1044.0" r="2.2"/><circle cx="374.0" cy="1045.5" r="2.2"/><circle cx="383.0" cy="1046.0" r="2.2"/><circle cx="390.0" cy="1045.0" r="2.2"/><circle cx="376.0" cy="1042.0" r="2.2"/><circle cx="385.0" cy="1050.0" r="2.2"/><circle cx="390.0" cy="1050.5" r="2.2"/><circle cx="384.0" cy="1053.0" r="2.2"/><circle cx="379.0" cy="1052.0" r="2.2"/><circle cx="370.4" cy="1034.6" r="2.2"/><circle cx="373.8" cy="1033.5" r="2.2"/><circle cx="381.5" cy="1030.0" r="2.2"/><circle cx="377.0" cy="1028.5" r="2.2"/></g>
<g fill="#d26c14"><circle cx="478.1" cy="1004.7" r="2.95"/><circle cx="486.8" cy="1005.2" r="2.95"/><circle cx="462.2" cy="1021.0" r="2.95"/><circle cx="468.0" cy="1020.6" r="2.95"/><circle cx="471.8" cy="1023.9" r="2.95"/><circle cx="474.7" cy="1026.8" r="2.95"/><circle cx="465.1" cy="1018.2" r="2.95"/><circle cx="478.6" cy="1017.2" r="2.95"/><circle cx="457.4" cy="1016.2" r="2.95"/><circle cx="448.8" cy="1016.2" r="2.95"/><circle cx="463.4" cy="1035.8" r="2.95"/><circle cx="465.0" cy="1043.8" r="2.95"/><circle cx="465.6" cy="1077.1" r="2.95"/><circle cx="456.8" cy="1003.8" r="2.95"/><circle cx="461.6" cy="1002.9" r="2.95"/><circle cx="463.2" cy="1003.1" r="2.95"/><circle cx="469.0" cy="1002.0" r="2.95"/><circle cx="453.8" cy="1005.0" r="2.95"/><circle cx="457.8" cy="1005.1" r="2.95"/><circle cx="461.6" cy="1005.0" r="2.95"/><circle cx="467.8" cy="1004.3" r="2.95"/><circle cx="472.0" cy="1006.1" r="2.95"/><circle cx="450.0" cy="1008.0" r="2.95"/><circle cx="453.3" cy="1009.1" r="2.95"/><circle cx="457.7" cy="1007.6" r="2.95"/><circle cx="461.8" cy="1009.1" r="2.95"/><circle cx="464.3" cy="1008.1" r="2.95"/><circle cx="468.7" cy="1007.4" r="2.95"/><circle cx="473.5" cy="1009.3" r="2.95"/><circle cx="477.1" cy="1008.9" r="2.95"/><circle cx="452.3" cy="1011.7" r="2.95"/><circle cx="457.6" cy="1011.0" r="2.95"/><circle cx="461.6" cy="1011.3" r="2.95"/><circle cx="465.4" cy="1011.4" r="2.95"/><circle cx="473.8" cy="1010.9" r="2.95"/><circle cx="478.6" cy="1011.4" r="2.95"/><circle cx="447.1" cy="1014.1" r="2.95"/><circle cx="451.0" cy="1014.9" r="2.95"/><circle cx="454.9" cy="1015.3" r="2.95"/><circle cx="460.6" cy="1015.7" r="2.95"/><circle cx="462.9" cy="1015.0" r="2.95"/><circle cx="469.1" cy="1014.1" r="2.95"/><circle cx="473.2" cy="1015.6" r="2.95"/><circle cx="475.3" cy="1016.2" r="2.95"/><circle cx="481.1" cy="1016.0" r="2.95"/></g>
<g fill="#f48e2a"><circle cx="478.1" cy="1004.7" r="2.2"/><circle cx="486.8" cy="1005.2" r="2.2"/><circle cx="462.2" cy="1021.0" r="2.2"/><circle cx="468.0" cy="1020.6" r="2.2"/><circle cx="471.8" cy="1023.9" r="2.2"/><circle cx="474.7" cy="1026.8" r="2.2"/><circle cx="465.1" cy="1018.2" r="2.2"/><circle cx="478.6" cy="1017.2" r="2.2"/><circle cx="457.4" cy="1016.2" r="2.2"/><circle cx="448.8" cy="1016.2" r="2.2"/><circle cx="463.4" cy="1035.8" r="2.2"/><circle cx="465.0" cy="1043.8" r="2.2"/><circle cx="465.6" cy="1077.1" r="2.2"/><circle cx="456.8" cy="1003.8" r="2.2"/><circle cx="461.6" cy="1002.9" r="2.2"/><circle cx="463.2" cy="1003.1" r="2.2"/><circle cx="469.0" cy="1002.0" r="2.2"/><circle cx="453.8" cy="1005.0" r="2.2"/><circle cx="457.8" cy="1005.1" r="2.2"/><circle cx="461.6" cy="1005.0" r="2.2"/><circle cx="467.8" cy="1004.3" r="2.2"/><circle cx="472.0" cy="1006.1" r="2.2"/><circle cx="450.0" cy="1008.0" r="2.2"/><circle cx="453.3" cy="1009.1" r="2.2"/><circle cx="457.7" cy="1007.6" r="2.2"/><circle cx="461.8" cy="1009.1" r="2.2"/><circle cx="464.3" cy="1008.1" r="2.2"/><circle cx="468.7" cy="1007.4" r="2.2"/><circle cx="473.5" cy="1009.3" r="2.2"/><circle cx="477.1" cy="1008.9" r="2.2"/><circle cx="452.3" cy="1011.7" r="2.2"/><circle cx="457.6" cy="1011.0" r="2.2"/><circle cx="461.6" cy="1011.3" r="2.2"/><circle cx="465.4" cy="1011.4" r="2.2"/><circle cx="473.8" cy="1010.9" r="2.2"/><circle cx="478.6" cy="1011.4" r="2.2"/><circle cx="447.1" cy="1014.1" r="2.2"/><circle cx="451.0" cy="1014.9" r="2.2"/><circle cx="454.9" cy="1015.3" r="2.2"/><circle cx="460.6" cy="1015.7" r="2.2"/><circle cx="462.9" cy="1015.0" r="2.2"/><circle cx="469.1" cy="1014.1" r="2.2"/><circle cx="473.2" cy="1015.6" r="2.2"/><circle cx="475.3" cy="1016.2" r="2.2"/><circle cx="481.1" cy="1016.0" r="2.2"/></g>
<line x1="364.1" y1="1045.3" x2="397.4" y2="1045.3" stroke="#000" stroke-opacity="0.4" stroke-width="4.1" stroke-linecap="round"/>
<line x1="447.8" y1="1013.5999999999999" x2="482.8" y2="1013.5999999999999" stroke="#000" stroke-opacity="0.4" stroke-width="4.1" stroke-linecap="round"/>
<rect x="331.3" y="997.7" width="183.49999999999994" height="135.79999999999995" fill="none" stroke="#111" stroke-width="1.6"/>
<line x1="322.8" y1="1009.8" x2="331.3" y2="1009.8" stroke="#111" stroke-width="1.4"/>
<text x="314.8" y="1014.5999999999999" font-size="13.4" text-anchor="end" fill="#111">8</text>
<line x1="322.8" y1="1027.9" x2="331.3" y2="1027.9" stroke="#111" stroke-width="1.4"/>
<text x="314.8" y="1032.7" font-size="13.4" text-anchor="end" fill="#111">6</text>
<line x1="322.8" y1="1045.8" x2="331.3" y2="1045.8" stroke="#111" stroke-width="1.4"/>
<text x="314.8" y="1050.6" font-size="13.4" text-anchor="end" fill="#111">4</text>
<line x1="322.8" y1="1063.7" x2="331.3" y2="1063.7" stroke="#111" stroke-width="1.4"/>
<text x="314.8" y="1068.5" font-size="13.4" text-anchor="end" fill="#111">2</text>
<line x1="322.8" y1="1081.9" x2="331.3" y2="1081.9" stroke="#111" stroke-width="1.4"/>
<text x="314.8" y="1086.7" font-size="13.4" text-anchor="end" fill="#111">0</text>
<line x1="322.8" y1="1100" x2="331.3" y2="1100" stroke="#111" stroke-width="1.4"/>
<text x="314.8" y="1104.8" font-size="13.4" text-anchor="end" fill="#111">–2</text>
<line x1="322.8" y1="1117.9" x2="331.3" y2="1117.9" stroke="#111" stroke-width="1.4"/>
<text x="314.8" y="1122.7" font-size="13.4" text-anchor="end" fill="#111">–4</text>
<text x="346.4" y="976" font-size="13" fill="#111" textLength="142.2" lengthAdjust="spacingAndGlyphs">miR-205 11.2-fold down</text>
<text x="346.4" y="993.5" font-size="13" fill="#111"><tspan font-style="italic">P</tspan> &lt; 10<tspan font-size="7.4" dy="-4">-13</tspan></text>
<line x1="380.6" y1="1133.5" x2="380.6" y2="1142.0" stroke="#111" stroke-width="1.4"/>
<line x1="466" y1="1133.5" x2="466" y2="1142.0" stroke="#111" stroke-width="1.4"/>
<text transform="translate(376.6,1150.1) rotate(-90)" font-size="13.4" text-anchor="end" fill="#111">CTCL</text>
<text transform="translate(390.8,1150.1) rotate(-90)" font-size="13.4" text-anchor="end" fill="#111">(n=45)</text>
<text transform="translate(462,1150.1) rotate(-90)" font-size="13.4" text-anchor="end" fill="#111">Benign</text>
<text transform="translate(476.2,1150.1) rotate(-90)" font-size="13.4" text-anchor="end" fill="#111">(n=61)</text>
</svg>
</div></body></html>
